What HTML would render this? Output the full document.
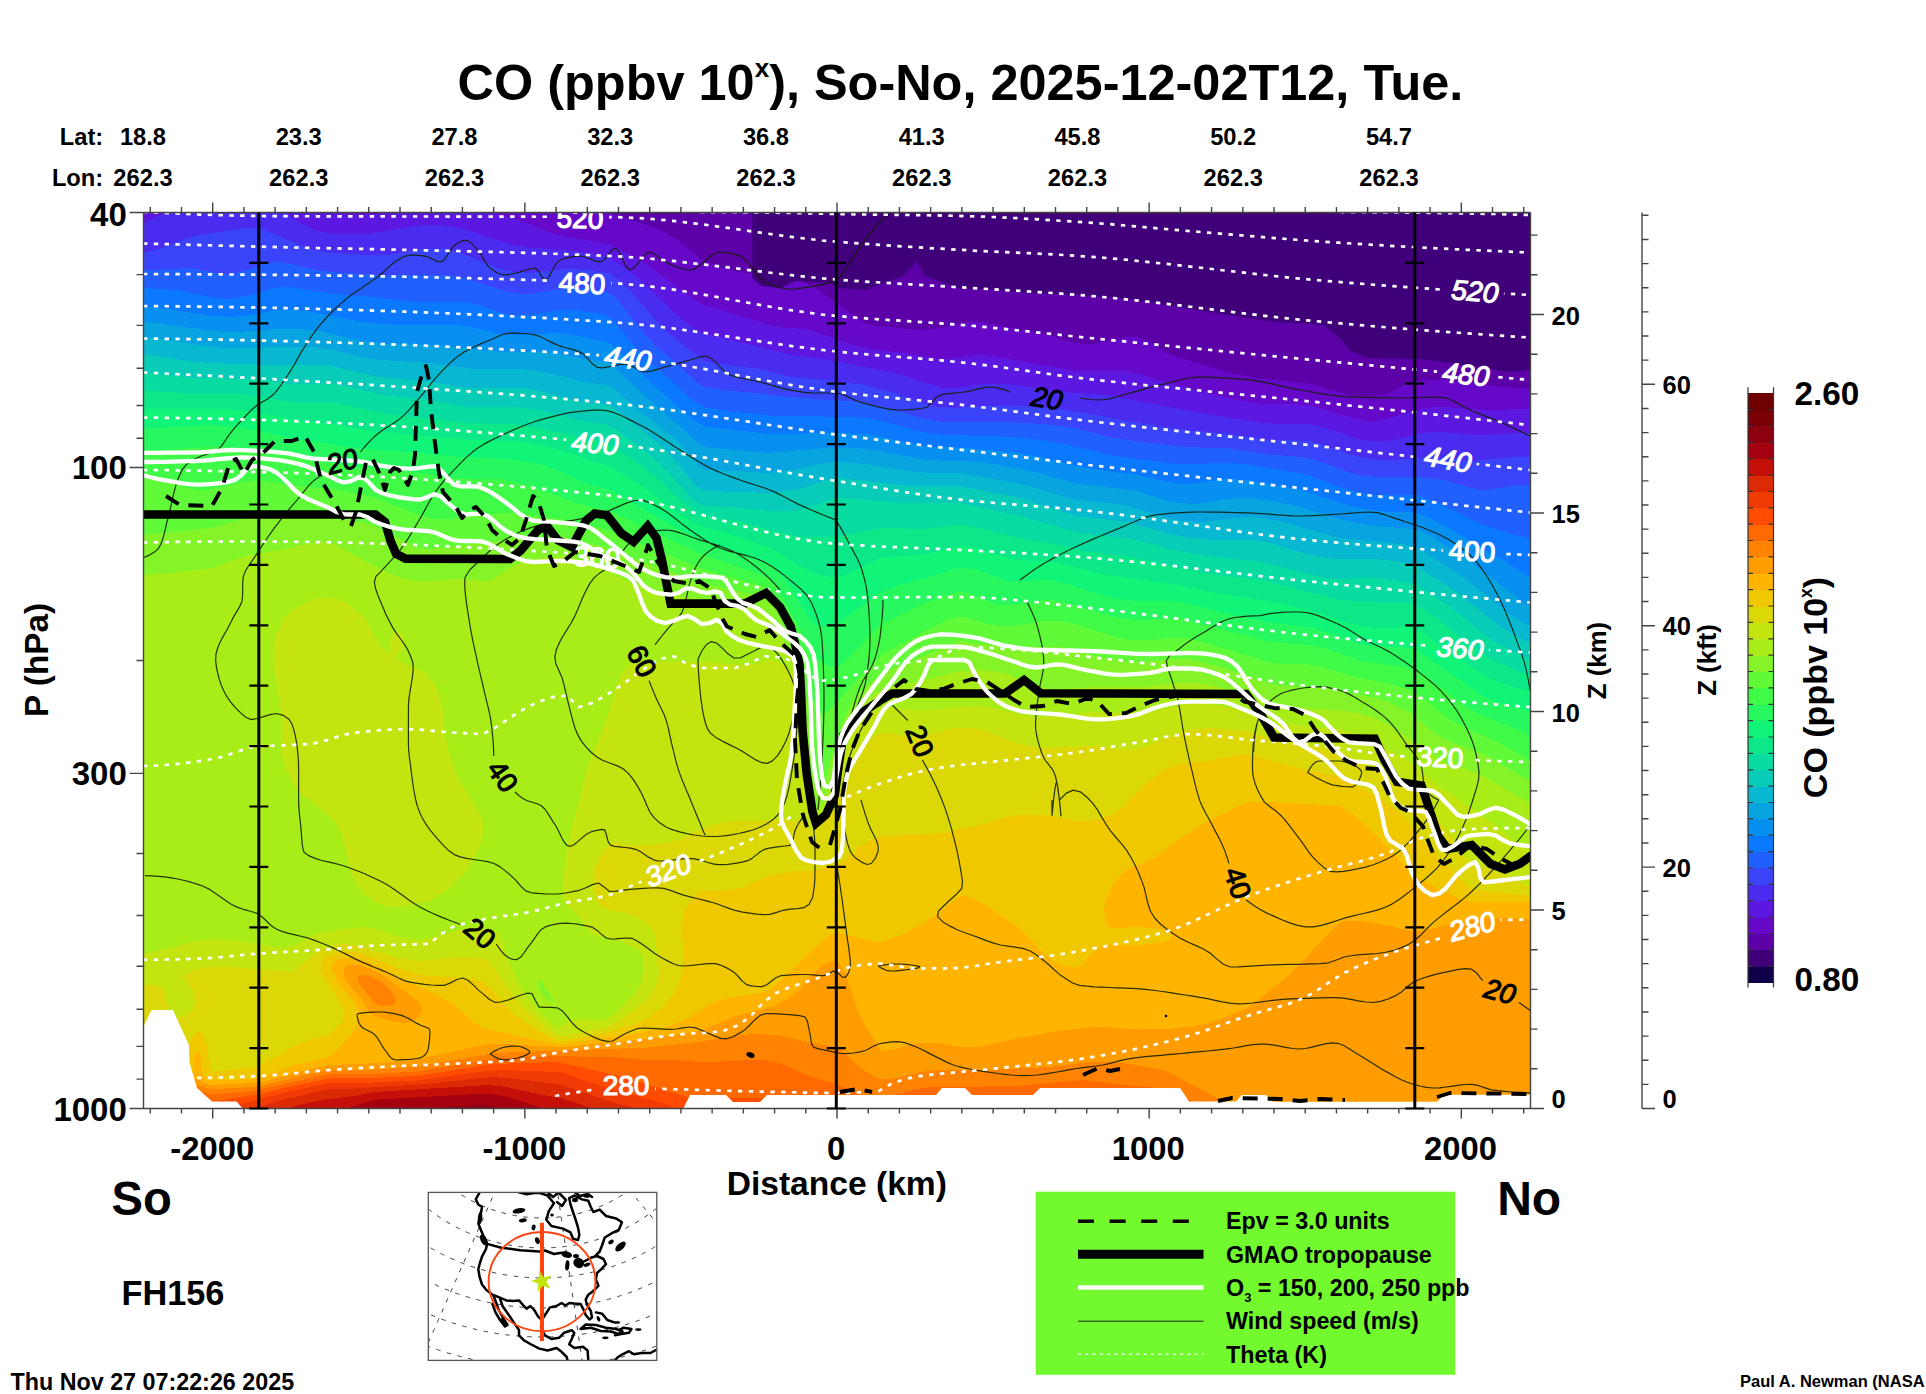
<!DOCTYPE html>
<html lang="en"><head><meta charset="utf-8"><title>CO cross-section So-No</title>
<style>html,body{margin:0;padding:0;background:#fff}svg{display:block}</style></head>
<body>
<svg width="1926" height="1394" viewBox="0 0 1926 1394" font-family='"Liberation Sans", Arial, Helvetica, sans-serif' font-weight="bold" fill="#000">
<rect width="1926" height="1394" fill="#fff"/>
<defs><clipPath id="pc"><rect x="143.5" y="212.5" width="1387.0" height="896.0"/></clipPath></defs>
<g clip-path="url(#pc)" shape-rendering="crispEdges">
<rect x="143.5" y="212.5" width="1387.0" height="896.0" fill="#40007a"/>
<path fill="#5c00a8" d="M140.5 209.5l737 0 31 30 35 36 9.5 9 6.5 4 6 0.5 69 0 51 3 12 1.5 21 1 21 4 24 6 15 1 9 -1.5 15 -6 15 -3 21 -8.5 12 -1.5 6 1.5 12 5 49.5 26 26.5 9 80 15.5 15 1 30 0.5 15 1.5 15 4.5 24 12 9 2 0 746 -1392 0z"/>
<path fill="#6608c8" d="M140.5 209.5l451.5 0 19.5 4 48 16 17.5 10 24.5 20 18 8 12 3.5 12 1.5 33 1 12 2.5 12 4.5 18 9.5 42 30.5 7 3 8 2 39 4 12 0 15 -1.5 24 -5.5 15 -0.5 63 12 30 8.5 12 2 12 -1 30 -6.5 9 0 9 3 18 11.5 9 4 57 17.5 30 5.5 45 4.5 12 2.5 30 9 12 2.5 9 0.5 12 -2 9 -3 18 -9 9 -2 12 -1.5 24 0.5 51 6.5 30 2 0 720.5 -1392 0z"/>
<path fill="#5c18e0" d="M140.5 209.5l180.5 0 7.5 3 4 0.5 27 1.5 18 -1 5.5 -1 8.5 -3 88.5 0 38.5 10.5 36 14 9 2.5 42 7 6 1.5 36 20 37.5 28.5 16.5 10.5 62.5 19.5 18.5 4 21 1.5 12 2.5 36 13 18 4.5 30 3.5 39 6.5 9 0 27 -4 15 0.5 84 15 54 1 12 2.5 36 11 57 14 30 5 36 0.5 12 1.5 15 3.5 27 8.5 15 3 9 0 8 -1.5 28 -8.5 18 -3.5 15 -0.5 36 3 51 -1 0 700.5 -1392 0z"/>
<path fill="#4a2cf0" d="M140.5 223.5l6 -1 19.5 -10 4 -3 111 0 7 6 17.5 10.5 12 5 15 3 21 0.5 18 -1 36 -6.5 18 -2 12 0 12 1 18 4 33 11.5 12 3.5 18 2.5 47 4 31 6 10 6 20 15 39 37 18 14 6 3.5 90 22 36 4.5 69 14 45 14.5 12 0.5 33 -5 15 0 69 9 39 3 90 17.5 60 9.5 15 1 27 0 12 1.5 14.5 3.5 30.5 10.5 15 2.5 17.5 -1 30.5 -7 12 -1.5 12 0.5 33 2.5 54 -2.5 0 677 -1392 0z"/>
<path fill="#3a44fa" d="M140.5 252l9 -0.5 9 -2 27 -10.5 12 -3.5 51 -8 9 0.5 6 1.5 29.5 13 15.5 6 12 3 12 1.5 48 2.5 15 -1.5 30 -5.5 18 0 15 4 39 15.5 15 3.5 18 1.5 30 -3.5 12 -0.5 18 1.5 18 3 9 6 12.5 11 26.5 31 9 9 30 24.5 9 5.5 18 4 33 4 36 8.5 39 3.5 30 4 27 6.5 36 12.5 12 3 18 1.5 42 -2.5 18 0 48 4 30 4.5 36 7.5 63 9 39 3.5 39 6 30 0.5 12 1 15 4 33 11.5 18 3 15 0 42 -3 42 4 39 -4 18 -0.5 0 653 -1392 0z"/>
<path fill="#2060ff" d="M140.5 270.5l48 -2.5 9 1 21 4.5 12 0.5 12 -2.5 24 -8.5 12 -1 12 2 27 6 18 2.5 57 3 42 -1 15 0.5 18 4 39 12.5 12 2 15 0 33 -5.5 12 -0.5 15 1.5 12 2.5 6 3 8 8 24 30 11 12 24.5 21 19.5 18.5 6 3 21 3.5 30 2.5 33 4 72 5 24 5 39 11.5 15 3 69 0.5 36 2 27 3.5 42 10 15 2.5 57 7 45 1.5 39 6 33 2.5 15 3 30 11.5 15 4 21 2 33 -0.5 15 1 15 2.5 33 9.5 12 -0.5 27 -4.5 15 0 0 624.5 -1392 0z"/>
<path fill="#0a78ff" d="M140.5 288l36 2 36 7.5 15 1.5 18 -2.5 30 -9 15 -0.5 42 7 42 3 39 5 12 0.5 27 -1 12 0.5 15 3.5 24 8 12 2 15 -0.5 27 -4.5 9 -0.5 12 0.5 27 4.5 6 3.5 19 23 14 15 51 46.5 9 4.5 27 4 39 4 78 1.5 18 1 18 3.5 33 9.5 15 3 12 1 51 1 39 3 27 4.5 51 12 60 8 18 1 33 -2 23 2 58 9.5 39 14 18 4.5 18 2.5 30 -0.5 9 1 18 6.5 33 17 12 5.5 18 6 33 9 0 570 -1392 0z"/>
<path fill="#0890f0" d="M140.5 306.5l18 1.5 51 7.5 18 1.5 18 -1 33 -6 15 0 18 2 43 8.5 23 3.5 33 1.5 45 -0.5 12 1.5 30 7 12 1.5 15 0 30 -2 12 1 39 8 6 3 24 24 33 29.5 27 23.5 9 4.5 63 7.5 72 -1 30 1.5 60 12.5 39 1 51 5 21 4 42 10.5 54 7.5 30 6.5 12 2 15 0 33 -4.5 21 1 51 9.5 42 14 21 5 21 3 33 1 15 6 18 9.5 50 29.5 28 18 6 2.5 0 531.5 -1392 0z"/>
<path fill="#08a4e0" d="M140.5 322l15 1 54 7.5 18 1.5 18 -0.5 36 -3 18 0.5 24 3 36 8.5 18 3 63 2 45 5.5 21 1 36 0 15 1.5 27 5.5 21 3 6 2.5 39.5 37 31.5 27 16 15.5 6 3 63 6 66 -5.5 18 0 21 2.5 51 9.5 15 1 24 0 24 2.5 36 6 54 14.5 54 6.5 12 3 24 8 12 2 18 1 30 -5 15 -1.5 12 1 21 3 24 5 39 12 18 4.5 24 3.5 36 2.5 15 7 42 27.5 48 37 6 4 6 2 0 503 -1392 0z"/>
<path fill="#08b8d0" d="M140.5 337.5l15 1 45 7 21 2 27 0.5 51 -1.5 18 1 15 2 33 8.5 15 2 51 3 42 6 42 0 18 1 18 3.5 30 8 27 4 6 3.5 27 23.5 28 22 12.5 12 16.5 19.5 6 3.5 66 3.5 24 -3.5 23 -5 22 -3 21 2 51 8 18 1.5 33 0.5 57 10 57 16.5 36 3.5 15 2.5 39 11.5 15 3.5 21 1 42 -5 15 0.5 24 4.5 54 15.5 72 7.5 9 3 45 29.5 45 35.5 18 11.5 6 2 0 483 -1392 0z"/>
<path fill="#08ccb8" d="M140.5 354.5l15 1.5 36 5.5 18 1.5 75 2.5 33 -0.5 12 0.5 48 11.5 51 4.5 36 6.5 12 0.5 33 -1 18 1 12 2.5 36 10 33 4 6 3.5 48 38.5 11 11.5 22 27 3 3 6 2.5 69 2 24 -3.5 30 -10 12 -1.5 66 7.5 54 0.5 60 12 57 18 51 6 45 12.5 15 3 21 2 36 0.5 12 0.5 15 3 36 11 15 3 15 1.5 39 0 24 3 15 3.5 42 27.5 43 33.5 23 14 9 3 0 466 -1392 0z"/>
<path fill="#08dca0" d="M140.5 372.5l54 5.5 57 1 42 5.5 39 -1 12 2.5 36 9 45 4.5 39 7 15 1 33 -0.5 15 1.5 15 2.5 33 8.5 30 5 9 4 36 27 12 11 28.5 31 7.5 6.5 6 2 30 1.5 36 3.5 24 0 9 -1.5 24 -9 12 -3 63 5.5 60 0.5 57 12.5 60 17 51 5.5 45 12 24 4.5 60 6.5 63 16 15 1.5 27 -1 15 0.5 24 3 12 3 33 21 30 24.5 15 11 27 14.5 12 4.5 0 449.5 -1392 0z"/>
<path fill="#0ce888" d="M140.5 390l48 3.5 57 1 51 8.5 39 0 39 8.5 18 3 75 8.5 48 1.5 24 3.5 66 15.5 6 2 36 24.5 33.5 30.5 17.5 13.5 6 1.5 34.5 6 58.5 15 39 0.5 42 -8.5 12 -0.5 33 1 33 -4 6 0 18 3.5 36 9.5 36 5.5 33 8 48 6 75 16.5 42 4.5 15 2.5 75 18.5 21 2.5 45 1.5 6 0.5 6 2.5 18 11 30 25 18 12.5 21 11 21 8 6 1.5 0 434 -1392 0z"/>
<path fill="#10f478" d="M140.5 408.5l39 1 42 -0.5 18 1 18 2.5 36 8 39 3.5 42 7.5 93 8 51 2 27 4.5 21 6 45 15.5 27 16.5 38.5 28.5 21.5 13.5 30 7.5 42 14.5 33 20 12 5.5 12 3 9 0.5 9 -2 30 -15 7.5 -2.5 40.5 -3 33 -7.5 9 -0.5 15 3 33 10 42 2.5 48 12.5 72 10 45 9.5 36 5 27 5 27 6.5 40 13 14 3.5 15 1 30 -1 9 2.5 37 27 32 21 15 6 30 9 0 417 -1392 0z"/>
<path fill="#28f860" d="M140.5 427.5l27 0 39 -2.5 21 1 27 4 39 8.5 66 10 53.5 4 48.5 4.5 48 2 18 2.5 15 3.5 16 5.5 26 12 24 7 6 2.5 55.5 32.5 28.5 15 72 25 8.5 8 7.5 9 23 37.5 6 5.5 9 2.5 9 -2 6 -2.5 36 -26.5 12 -6.5 12 -4.5 30 -8 24 -8 9 -1.5 15 2.5 30 10.5 12 1 24 -1.5 9 0.5 15 3.5 33 11 18 4 18 2 33 0 15 1.5 48 12.5 36 7 45 6 51 17 12 1.5 27 1 12 2 69 47.5 12 5 36 10.5 0 397 -1392 0z"/>
<path fill="#40fa48" d="M140.5 449.5l30 0 36 -3 15 0 39 5 90 14.5 54 5 45 7 51 1.5 16 3 17 4.5 45 17 30 6.5 90 42.5 69 24.5 6 5 5 8 22 39 12 25.5 3 3.5 6 4.5 9 3.5 9 -1 6 -4 30 -31.5 9 -7 36 -18 27 -10 12 -3.5 9 2 23.5 9 9.5 2.5 12 0.5 27 -5 12 -0.5 15 3 36 11 21 5 15 1 30 -1.5 15 1 81 21.5 12 2 27 1.5 12 1.5 12 3.5 33 11.5 39 5.5 15 3.5 15.5 10.5 32.5 24.5 12 7.5 12 5.5 27 10 12 6 6 2 0 373.5 -1392 0z"/>
<path fill="#60fa38" d="M140.5 475l18 2.5 27 10 12 2.5 12 -0.5 30 -7 15 -1.5 12 0.5 27 4.5 42 3.5 39 8 45 18 15 3.5 18 0 27 -4 27 -2.5 54 6.5 48 11 27 12 33 12.5 30 13 63 18.5 6 2.5 3 2.5 4 5.5 24.5 45 6 18 7.5 37 3 9 3 5 3 3 3 0 6 -4.5 12 -12.5 13 -16 26 -26 51 -27.5 18 -8 9 -2.5 6 0.5 24 7.5 15 2 12 -1 30 -5 15 0.5 15 3.5 39 12.5 15 3 15 0.5 27 -3 15 1 15 3.5 66 20 12 2 27 0.5 12 2 36 10.5 39 8 18 6 6 3.5 24 19.5 13 8.5 14 7 31.5 14 25.5 15 6 2 0 349 -1392 0z"/>
<path fill="#84f428" d="M140.5 535l63 -6 15 -3 24 -7 12 -2.5 33 1.5 39 -3 18 2 27 8 12.5 5.5 29.5 15.5 6 2 6 1 18 -1 27 -4 18 -1.5 30 -5 42 -1 48 11.5 21 9 33 11.5 36 14 66 14.5 6 4 3 4.5 10.5 21 12 21 4.5 12 4 21 3 27 5 65.5 3 13.5 3 3 3 -2 3 -5.5 13 -44.5 6.5 -18 7 -15 6.5 -9.5 24 -21.5 78 -32.5 48 6 39 -0.5 12 0.5 48 11.5 21 3 15 0.5 33 -3.5 15 0.5 33 8.5 48 16.5 12 2 27 1 15 1.5 48 9 18 5.5 21 11 18 16 11.5 7.5 9.5 4.5 35 13.5 37 22 9 3.5 0 328.5 -1392 0z"/>
<path fill="#a8ec18" d="M140.5 575l21 -1 45 -5 12 -3 22.5 -8.5 10.5 -2.5 27 -4.5 30 -7 15 -1.5 6 1 8 2.5 40 22.5 21 9 15 4 9 0.5 33 -2.5 33 2 6 -2.5 17.5 -12 8 -3 19.5 -5 21 -2.5 15 3 16 4.5 16 6 13 8 12 5.5 39 12 27 5.5 30.5 2 28 6 7 3 3.5 3.5 10.5 17.5 13.5 19.5 6 12.5 3 12.5 2.5 18.5 6 87 3.5 19 3 7.5 3 -0.5 3 -3 3 -5.5 24.5 -74.5 5.5 -12 6 -7.5 15 -13 9 -4.5 54 -11.5 21 -6 18 -1 18.5 1.5 14.5 4 26 11 16 3 15 -0.5 33 -2.5 39 1 39 -5 18 0.5 15 2.5 36 9.5 18 7 12 3.5 12 1.5 51 3.5 18.5 3 14.5 4 15 7.5 21 13.5 21 16.5 9 5.5 9 4 21 6 15 6 39 23.5 9 3.5 0 306 -1392 0zM537.5 980.5l0.5 6 4.5 8.5 6 5.5 6 1.5 -12 -19.5 -3 -3z"/>
<path fill="#c4e410" d="M311.5 600l9 -2.5 9 0 9 2 12 6 9 7.5 6 6.5 12 23 3 4 6 5.5 3 1 1 -2.5 -0.5 -9 2.5 -6.5 3 -2.5 3 -0.5 3 2 2 4.5 0 6 -2 6 -5.5 6 1.5 3 4 3.5 15 5.5 9 5.5 8 9.5 5 9 4 15 3 30 4 18 5.5 15 6.5 14 19 31 2 6 1 9 -1.5 9 -3 9 -6.5 12 -8 12 -9 10 -9 8 -9 5.5 -9 4.5 -18 5 -18 1.5 -9 -1.5 -6 -2.5 -12 -8 -6.5 -7.5 -6.5 -12 -4 -12 -6 -27 -5.5 -12 -7.5 -9 -21 -16 -9 -8 -7 -9 -6 -12 -3 -9 -2 -12 -0.5 -39 -7.5 -42 -1 -12 0.5 -9 3.5 -15 6 -12 5.5 -6 8 -6zM140.5 954l18 -3 33 -9 18 -2.5 24 1 21 2.5 22 4.5 11 0 9 -2.5 12 -7.5 9 -3.5 21 -4 24 -3 15 2.5 24 8.5 15 2.5 6 -0.5 36 -9.5 15 -1.5 15 -0.5 6 2 5 5 13.5 36 5.5 12 7 12 12.5 15 16.5 15.5 3 2 3 -0.5 6 -5.5 6 -2.5 27 0.5 6 -1 6 -2.5 19 -18 8.5 -12 2.5 -6 1.5 -9 0.5 -9 -1 -6 -1.5 -3 -2.5 -3 -12 -7 -12 -4.5 -18 -3 -6.5 -3.5 -11.5 -15.5 -9 -8.5 -4 -6 -2.5 -9 0 -12 2.5 -24 3.5 -18 18.5 -72.5 16.5 -41.5 10.5 -32.5 6 -15.5 6 -9 3.5 -3 5.5 -2.5 12 -1.5 27 0 27 0.5 42 3 12 -1 15 -4.5 9 2.5 9 6.5 6 7.5 3 8.5 3 27.5 1 37.5 3 33 5.5 30 2.5 5.5 3 0.5 6 -4 5.5 -8 15.5 -46.5 12 -31.5 6 -8 18 -11.5 9 -1 24 2 15 0.5 36 -4 15 -0.5 15 2 33 8 18 1.5 15 -1 39 -5 42 2.5 12 -2 33 -7.5 12 -0.5 15 0.5 15 2.5 18 4.5 21 8 12 3.5 15 2 45 4 15 4 15 5.5 45 25 27 23.5 42 28 35 27.5 10 6.5 6 2 0 258.5 -1392 0z"/>
<path fill="#dcd808" d="M1532.5 886.5l0 223 -1392 0 0 -124.5 15 0.5 6 1.5 2.5 2.5 1 3 1.5 12 1.5 6 5.5 5.5 3 1 6 0 6 -3.5 3.5 -3 1.5 -3 1.5 -6 -1.5 -9 -2 -4.5 -6.5 -7.5 -0.5 -3 2.5 -3 4.5 -3 12 -4 9 -1 12 0 66 5.5 3 -0.5 17.5 -15 9.5 -6.5 9 -4 12 -2 18 2 39 12 15 2.5 12 0 36 -3.5 18 1 6 1.5 6 4 17.5 26 12 15 19 18 17.5 13.5 6 0.5 39 -8 8.5 -3 27 -18 10 -9 8 -12 2 -6 1 -9 -4 -36 -1.5 -5.5 -2.5 -3.5 -9.5 -7 -9 -4 -9 -3 -18 -3.5 -6 -4 -3.5 -5.5 -3 -12 0.5 -15 3 -9 3 -6 9 -12.5 3 -2 3 0 18 2.5 18 -0.5 15 -2 15 -4 18 -9 9 -3.5 15 -4 12 -2 30 0 15 -1 12 1.5 6 -1.5 3 0 9 9 3 1 3 -0.5 6 -4.5 7.5 -9 13.5 -32.5 15 -31 6 -6.5 9 -8 6 -4 3 -1 6 0 18 4 12 0.5 6 -0.5 27.5 -8 14.5 -1 9.5 1 12 3 26.5 11 18 4.5 15 1 45 -2 27 4 9 0.5 9 -1 9 -2.5 27 -12 12 -4 15 -2.5 15 -0.5 33 3.5 21 7 15 3.5 51 7.5 9 3 21 12 33 15.5 15 8.5 6 6 48 63.5 6 5 21 7.5 31.5 14z"/>
<path fill="#f0c800" d="M1532.5 896l0 213.5 -1392 0 0 -17.5 17 -3.5 20 -6 5 -2.5 3 -3.5 1.5 -6 3 -27 4 -9 3.5 -2.5 3 0.5 2 2 3 6 2 9 2 18.5 3 3.5 3 0 36 -4 6 -1 36 -20.5 15 -6 18 -4.5 6 -3 9.5 -10 2 -6 0 -6 -4 -9 -16 -24 -2.5 -6 -1 -6 1 -3 2 -3 4 -3 7 -3 10 -2 12 1 15 4.5 27 11.5 15 5 15 2.5 36 2 9 1.5 9 2.5 6.5 4.5 14.5 18 13 12 22.5 15 18.5 9 9 0 42 -8 27 -8.5 12 -5.5 15 -11 10.5 -12 6 -12 4 -15 1 -12 -2.5 -30 2 -11 3 -7.5 6 -9.5 6 -6.5 3 -1.5 15 1 15 -1.5 12 -3 19.5 -8.5 10.5 -3.5 24 -4.5 15 1 12 -4 12 -2 6 -4 18 -15.5 12 -7 9 -3 39 -1 21 -2 36 -7.5 30 -8.5 15 -2.5 24 0.5 33 6.5 9 -0.5 12 -2 12 -5 9 -5.5 22.5 -23 19 -15 6.5 -3.5 15 -3.5 27 -3 27 -5.5 12 -0.5 42 12.5 48 10 15 9 24 12 15 10.5 9 8.5 19 22.5 31 33 16 15.5 6 2z"/>
<path fill="#ffb400" d="M1532.5 902l0 207.5 -1392 0 0 -7 6 -1 33 -12 6.5 -4 4.5 -6 1.5 -6 2.5 -20 3 -3 3 5 2 15 2 6 3 3 5 1 36 -1.5 12 -1.5 33 -12 33 -7.5 6 -3.5 18.5 -20 5 -9 2.5 -9 -0.5 -6 -2 -6 -17.5 -21 -6 -12 -0.5 -6 2 -3 4.5 -3 6 -1.5 12 0.5 12 3.5 39 19.5 31 14 15.5 9 20 18 10 6 54 12 22.5 4 81 -12 19.5 -4 25.5 -9 22 -15 8 -3 15 -4.5 21 -2.5 12 -2.5 9.5 -5.5 47.5 -45 9 -6 9 -2.5 39 9 6 -1 18 -6.5 15 -8 18 -11.5 21 -17 6 -2.5 9 2.5 10 4.5 32 21 12 10 18.5 20 8.5 7 12 5.5 12 1.5 3 -1 3 -2.5 12 -13.5 9 -6 24 0.5 18 -0.5 18 -3 6 -3 1.5 -3 -1.5 -3 -9 -3.5 -21 -2 -27 1 -3 -1 -3 -3.5 -1 -3 -1.5 -12 2 -9 5.5 -12 10 -13.5 6 -5 15 -5.5 11.5 -6 9.5 -6.5 21 -16 21 -12.5 27 -14 18 -7 9 0 75 4 6 1 14 9 13 11 45 46.5 7 5.5 14 8 22 10 14 5z"/>
<path fill="#ff9c00" d="M1532.5 919l0 190.5 -1377 0 3.5 -3 26.5 -14.5 12 -14 6 4.5 6 2.5 45 -2 6 -0.5 39 -11 30 -6.5 48 -2 39 -3.5 72 -15.5 15 0 60 3.5 42 -5 42 -3.5 51 -8 36 -14.5 36 -9.5 9 -4 18 -11.5 15 -17 9 -8.5 6 -4 6 -1.5 3 0.5 3 2.5 6 10.5 12 36.5 6 12 15 24.5 3 3 3 1 9.5 -1.5 17.5 -5.5 12 -1.5 12 0.5 27 4 18 -0.5 33 -7.5 48 -8.5 27 -3 15 -0.5 36 2.5 33 -1 18 -2 15 -2.5 12 -4 27 -11 6 -3 39 -31.5 45 -47 6 -5 3 -1 15 -0.5 15 1.5 42 9.5 18 -3.5 39 -10 21 -1zM343.5 968.5l3.5 -3 3.5 -1 9 0.5 15 5.5 12 7 31.5 24 3.5 6 0 3 -2 5.5 -6 5 -6 1.5 -6 0.5 -12 -2 -15 -5.5 -6 -4.5 -7 -12.5 -11 -12 -4.5 -6 -2.5 -6z"/>
<path fill="#ff8200" d="M357.5 977.5l2 -2.5 3 -0.5 9 2.5 8 3.5 7.5 6 5.5 6 3 6 0 3 -3 3 -6 1 -6 0 -6 -2.5 -15.5 -19.5zM1236 1109.5l-1065 0 2.5 -3 12 -8.5 9 -10 3 -2.5 15 3.5 42 -2 9 -1.5 39 -10 27 -5.5 45 -0.5 42 -3 78 -13.5 153 -5.5 54 -6 39 -6.5 15 -1 21 1 38.5 8.5 21.5 3.5 6 4 12 12 10 7.5 11 7 6 2 12 -1 30 -7 12 -1.5 39 0.5 75 -3.5 45 -5.5 30 1.5 36 6.5 6 1.5 66.5 35.5z"/>
<path fill="#ff6a00" d="M183 1109.5l11.5 -15 3 -2.5 2 -0.5 7 2 6 1 42 -4 75 -16.5 45 0 42 -2.5 75 -12.5 66 -3.5 21 1 30 0 36 3.5 36 0.5 24 2 45 -2.5 18 0.5 15 4 27 12 27 7.5 24.5 10.5 11.5 3 6 0.5 9 -1 30 -8 18 -2.5 30 0.5 57 -1.5 60 -5.5 36 4.5 45 4 9 3 25 12 9.5 6z"/>
<path fill="#ff4c00" d="M192.5 1109.5l5 -7.5 3 -1.5 6 1 6 0 45 -7 36.5 -9 35.5 -7 42 -0.5 45 -2 75 -12 66 -2 66 15 75 23.5 9 0 33 -3 15 0 39 4.5 39 2.5 15 2 9.5 3zM1174 1109.5l-275 0 7 -3 11.5 -3 21 -4 90 -1.5 15 -1 36 -5.5 45 14 36 -1 9 2z"/>
<path fill="#f03c04" d="M678.5 1109.5l-455 0 6.5 -3 58.5 -15 41 -8.5 33 0 54 -2.5 69 -9.5 18 -1 57 2 48 16.5 56 15zM1066.5 1109.5l13 -2.5 7.5 2.5z"/>
<path fill="#dc2a04" d="M637 1109.5l-380.5 0 5 -3 18 -6 50 -11.5 24 -0.5 66 -4 72 -7.5 21 1.5 48 6 48 16.5 21.5 5.5z"/>
<path fill="#c41008" d="M593 1109.5l-306.5 0 10 -4 27 -6 27 -3 24 -4.5 114 -7 18 2 36 8 18 3 27 8.5z"/>
<path fill="#a50010" d="M546.5 1109.5l-202.5 0 27.5 -9 6 -1 108 -6 9 1 15 3z"/>
<path fill="#8c0010" d="M431 1109.5l24.5 -3.5 27 -1 12 1 9 3.5z"/>
</g>
<g clip-path="url(#pc)">
<path d="M752.3 212L1531 212L1531 370L1507 372L1470 366L1422 359L1368 358L1351 351L1339 337L1324 325L1275 322L1202 311L1129 299L1080 295L1025 293L952 286L925 276L917 261L903 276L866 290L837 288L830 283L795 281L781 288L761 286L752.3 278Z" fill="#40007a"/>
<path d="M143 1027.4L151.5 1010L173 1010L189 1045.3L189.5 1062.6L197 1088L212 1101.4L236.5 1101.4L243 1109L143 1109ZM683 1109L690 1095L726 1095L733 1102L760 1102L767 1095L936 1095L942 1088L965 1088L972 1095L1033 1095L1040 1088L1080 1088L1180 1088L1189 1101.5L1236 1101.5L1242 1095L1266 1095L1273 1101.8L1437 1101.8L1444 1094.7L1531 1094.7L1531 1109Z" fill="#fff"/>
<path d="M143.7 557.5L149.4 555.1L154.4 552.1L158.2 548.7L160.6 544.6L162.5 539.7L164.1 534.2L165.5 528.3L166.8 522.5L168.3 517L169.6 511.6L170.9 506.1L172.1 500.6L173.3 495.1L174.7 489.7L176.2 484.4L178 479.2L180.2 473.9L182.9 468.9L186.2 464.8L190.6 461.5L195.6 458.6L200.7 456.3L206.2 454.4L211.7 452.5L216.6 450.2L220.6 447.1L223.9 442.7L227 437.8L230.4 433.2L233.9 428.9L237.6 424.7L241.4 420.5L245.2 416.5L249 412.4L253 408.5L257.3 405L262.2 402.1L267.1 399.3L271.5 396.1L275.3 392.3L278.8 388L282.2 383.4L285.4 378.7L288.5 373.9L291.5 369.3L294.3 364.5L297 359.6L299.8 354.7L302.6 349.9L305.6 345.2L308.7 340.5L311.8 335.9L315.1 331.3L318.4 326.9L322 322.7L325.7 318.5L329.5 314.4L333.5 310.5L337.5 306.6L341.7 302.9L345.9 299.2L350.2 295.8L354.8 292.6L359.4 289.4L364 286.3L368.7 283.2L373.3 280L377.8 276.7L382.1 273.2L386.2 269.3L390.4 265.5L394.7 262.2L399.5 259.1L404.6 256.3L409.9 255L415.3 255.2L421 255.6L426.5 256.3L431.9 258.7L437.1 261.4L441.6 261.7L445.3 258.4L448.7 253.1L452.2 247.7L456.4 244L461.5 240.9L466.5 240.2L471.1 242.9L475.5 247.3L479.3 251.5L482.3 256.4L485.1 261.6L488.1 266.2L492.1 269.6L497 272.7L502.4 274.7L507.8 274.8L513.3 273.7L518.8 272.3L524.4 270.7L530 268.9L535 268L538.9 271.5L542.3 277.6L545.7 279.9L548.9 276.9L551.9 271.3L555.2 265.1L558.8 260.7L563.3 258.8L568.8 257.4L574.6 256.4L580.3 256L585.8 257.2L591.4 259.4L596.6 261.5L601.4 261.7L605.8 258L609.9 252.4L613.7 248.4L617.1 249L620.3 253.9L623.2 260.7L626.2 266.8L629.5 269.9L633.2 268.5L637.2 264.1L641.4 258.6L645.7 253.9L650.1 252L654.6 253.9L659.2 257.8L664 261.5L669 263.8L674.4 266.1L679.9 268.1L685.3 269.5L690.4 270L695.3 268.6L700.1 265.3L704.7 261.2L709.4 257L714.1 253.7L719.1 252L724.4 252.3L730.2 253.2L735.8 254.6L740.7 256.3L744.9 259.1L748.7 263.3L752.3 268.2L755.8 273.2L759.5 277.8L763.6 281.2L768.3 283.5L773.5 285.6L779 287.3L784.6 288.6L790.2 289L795.7 288.8L801.2 288.2L806.8 287.4L812.4 286.5L817.9 285.4L823.4 284.3L829 282.8L834.2 280.9L838.4 278.3L842 274.2L845.3 269.3L848.4 264.3L851.7 259.7L854.8 255.1L857.8 250.4L860.9 245.7L864.1 241.2L867.5 236.7L871 232.4L874.6 228.1L878.3 223.9L882 219.8L886 215.9L890 212M360.5 452L364.5 447L368.7 442.3L373.2 437.8L377.8 433.7L382.8 429.9L388.2 426.5L393.6 423.2L398.8 419.6L403.5 415.6L407.9 411.2L412.1 406.5L416.2 401.6L420.3 396.8L424.4 392L428.3 387L432.2 382.1L436.3 377.3L440.5 372.7L444.9 368.1L449.5 363.6L454.2 359.3L459 355.4L464.2 352L469.6 349L475.3 346.2L481.2 343.6L487 341.2L492.9 338.8L498.8 336L504.7 333.8L510.8 333L517.1 333.2L523.5 333.5L529.7 334L535.7 335.1L541.5 337.3L547.3 340.2L553.1 343.1L558.9 345.6L565 347.5L571.2 349.1L577.2 350.9L582.7 353.6L587.5 358.4L592.2 363.6L597 367.3L602.5 367.9L608.6 366.8L615 365.4L621.4 364.2L627.5 364.3L633.3 367L639.1 370.3L645 372L651 371.2L657.2 369.4L663.3 367.5L669.4 365.8L675.5 364.1L681.5 362.4L687.6 360.7L693.7 358.8L699.9 356.8L705.8 356L711 358.1L715.8 362.4L720.6 367.6L725.5 372.3L730.8 375.3L736.7 377.1L742.8 378.5L749.1 379.7L755.4 381L761.6 382.4L767.7 384.1L773.7 385.9L779.8 387.7L785.9 389.2L792 390.3L798.3 391.4L804.5 392.3L810.8 392.9L817.1 393L823.5 393L829.8 393L836 393L842 394.1L847.8 396.6L853.7 399.5L859.6 401.9L865.6 403.6L871.7 405.2L877.9 406.9L884.1 408.2L890.4 409.3L896.6 409.9L902.9 410L909.4 409.7L915.9 409.2L922 408.5L927.4 407L932 402.2L936.6 397L941.8 394.6L947.7 393.7L954.2 393.1L960.7 392.5L967 391.7L973.2 390.2L979.4 388.6L985.5 387.3L991.7 387L997.8 387.8L1003.9 389.6L1010 392M1080 398L1089.1 399.5L1098.1 400L1107 399.4L1115.8 397.2L1124.6 394.5L1133.4 392.1L1142.1 389.7L1150.9 387.3L1159.7 385.1L1168.5 382.9L1177.4 380.5L1186.3 378.5L1195.2 377.2L1204.2 377L1213.2 377.3L1222.3 377.8L1231.4 378.4L1240.4 379.1L1249.5 379.9L1258.4 381.1L1267.3 382.8L1276.2 384.8L1285 386.9L1293.9 388.9L1302.8 390.5L1311.8 392L1320.7 393.6L1329.7 395L1338.7 396.2L1347.7 396.9L1356.8 397.2L1365.8 397.5L1374.9 397.7L1384 397.9L1393 398L1402.1 398L1411.3 397.8L1420.5 397.5L1429.6 397.2L1438.4 397L1447 398.2L1455.3 402L1463.5 406.7L1471.8 410.7L1480.2 414.1L1488.7 417.4L1497.1 420.8L1505.4 424.4L1513.7 428.1L1521.9 432L1530 436M323 475L317.2 478L312.3 481.9L307.9 486.6L303.8 491.7L299.7 496.9L295.5 501.8L291.3 506.7L287.1 511.6L283 516.7L279.1 521.8L275.2 526.9L271.4 532.2L267.6 537.5L264 542.8L260.4 548.2L257 553.7L253.3 559.2L249.3 564.7L245.7 570.4L243.4 576.2L242.7 582.3L242.7 588.8L242.6 595.4L241.9 601.5L239.3 607.4L235.8 613.1L232.5 618.9L229.6 624.8L226.4 630.7L223 636.6L219.9 642.5L217.5 648.5L215.9 654.5L215.7 660.6L216.4 667.1L217.8 673.5L219.5 679.9L221.5 685.8L224.2 691.8L227.5 697.6L231.4 703L235.6 707.9L240.1 712.4L245.4 717L251.2 719.6L257.3 718.5L263.6 716.6L270 714.6L276.2 713.5L282.7 715.1L288.7 719.1L291.7 723.5L293.5 728.6L295 734.5L296.3 741.1L297.3 748.1L298 755.2L298.5 762.2L298.6 768.9L298.6 775.3L298.6 781.8L298.6 788.3L298.6 794.7L298.6 801.2L298.9 807.6L299.4 814.1L300.1 820.5L300.8 827L301.4 833.6L301.9 840.7L302.6 847.2L304 852.2L309.2 855.9L315.8 858.6L321.9 860.5L328.2 861.9L334.6 863.3L340.9 865L347 867L353.1 869.2L359.2 871.5L365.2 874L371.1 876.7L377 879.5L382.7 882.3L388.3 885.4L393.7 888.9L399 892.7L404.2 896.5L409.5 900.4L414.9 904L420.4 907.3L426.1 910.2L432 913L437.9 915.6L443.9 918.1L449.9 920.5L455.9 922.8L462 925M496.3 944L500.7 950.4L504.9 955L509.1 958L513.1 959.5L517 959.6L520.7 957.1L524.3 952.5L527.8 947.3L531.4 942.9L534.7 938.2L537.9 933.4L541.4 929.4L545.3 926.9L550.1 925.4L555.5 924.1L561 923.4L566.4 923.2L571.8 923.5L577.2 924.2L582.6 925.1L587.8 926.1L592.7 927.4L597.2 930.4L601.5 934.4L605.9 937.8L610.6 939L615.9 938.8L621.3 938.3L626.8 938L631.8 938.3L636.7 940.7L641.3 943.8L645.8 946.7L650.1 950L654.4 953.2L658.8 956L663.5 958.7L668.4 961.4L673.4 963.8L678.4 965.5L683.5 966L688.8 965.7L694.1 965.2L699.5 964.5L704.9 963.9L710.2 963.5L715.4 963.7L720.6 965.2L725.7 967.4L730.5 970L734.8 972.9L738.7 977L742.5 981.4L746.6 984.6L751.3 985.9L756.7 986.5L762 986.7L766.8 984.8L771.3 981.3L775.8 977.7L780.6 975.7L785.7 975.3L791 974.9L796.4 974.7L801.9 974.5L807.2 974.5L812.7 974.9L818.1 975.4L823.3 975.7L828.3 974.3L833 971.1L837.6 972.4L842 976.9L845.5 977.4L848.7 972.6L850.4 966.6L850.3 961.5L849.8 956.3L849.1 950.9L848.4 945.5L847.5 940.1L846.8 934.7L846.1 929.4L845.4 924.1L844.7 918.8L844 913.6L843.3 908.3L842.6 903L841.8 897.7L841 892.4L840.3 887.1L839.5 881.8L838.7 876.6L837.8 871.3L837 866M836 520L829.6 517.6L823.2 515L816.9 512.4L810.6 509.7L804.3 506.9L798.1 504.1L792 501L785.9 497.8L779.8 494.6L773.7 491.6L767.4 489L760.9 486.7L754.4 484.7L747.8 482.6L741.3 480.5L734.8 478.1L728.4 475.7L722 473.2L715.7 470.6L709.5 467.7L703.5 464.6L697.6 461.1L691.7 457.4L685.9 453.7L680.1 450.1L674.3 446.4L668.6 442.6L662.9 438.7L657.1 434.9L651.3 431.2L645.4 427.8L639.4 424.7L633.2 421.6L626.9 418.4L620.5 415.3L614.1 412.7L607.5 410.8L600.9 410L594.2 410.2L587.3 410.7L580.4 411.4L573.6 412.2L566.9 413.2L560.1 414.6L553.4 416.3L546.8 418.1L540.2 419.9L533.7 422L527.3 424.2L520.9 426.7L514.5 429.4L508.2 432.2L502 435.1L495.8 438L489.6 441.1L483.6 444.4L477.8 448L472.4 452.1L467.2 456.6L462.3 461.4L457.5 466.3L452.7 471.3L448 476.3L443.4 481.5L439.1 486.8L435.1 492.3L431.5 498L428.1 504L424.8 510.1L421.5 516.1L418 522L414.6 527.9L411 533.9L407.4 539.7L403.6 545.4L399.5 550.8L395.1 556L390.4 561.1L385.8 566.2L381 571.4L375.8 576.7L374.4 582.4L375.6 588.7L377.9 595.3L380.7 602.1L383.5 608.6L386.2 614.9L389.3 621.1L392.5 627.1L396.1 632.9L400.2 638.5L404.3 644.1L407.8 649.9L410.6 656.2L412.9 662.8L413.2 669.4L412.5 676.1L411.5 682.9L410.3 689.8L409.2 696.6L408.5 703.5L408.4 710.3L408.4 717.2L408.4 724.1L408.4 730.9L408.4 737.8L408.4 744.6L408.8 751.4L409.5 758.3L410.5 765.1L411.3 771.9L412.2 778.7L413.1 785.5L414.2 792.3L415.5 799L417.2 805.6L419.5 812.1L422.4 818.2L425.9 824.1L430 829.8L434.3 835.2L438.8 840.3L443.6 845.6L448.7 850.6L454.2 854.6L460.1 856.9L466.6 858.4L473.6 859.5L480.7 860.5L487.6 861.7L494 863.5L499.8 866.6L505.3 870.9L510.7 875.4L515.9 880.4L520.8 886.2L525.8 890.9L531.5 892.8L538 893.4L545 893.8L552.1 894L559 893.8L565.8 893L572.6 891.7L579.3 890.3L585.9 887.8L592.4 884.6L598.5 883L604 886.9L609.5 891.5L615.8 891.2L622.7 890.3L629.7 889.4L636.7 888.8L643.5 888.4L650.4 888L657.2 887.8L663.9 888.4L670.4 890.4L677 892.9L683.5 895.1L690.2 896.9L696.8 898.5L703.5 900.1L710.1 901.8L716.7 903.8L723.2 906.2L729.6 908.6L736.1 910.7L742.8 912.2L749.5 913.2L756.4 914.1L763.2 914.6L770 914.3L776.6 912.4L783.2 910.3L790.1 909.2L797.4 908.6L803.9 907.7L809.1 904.2L812.5 897.7L813.6 891.3L814.5 884.4L814.9 877.3L815 870.4L815 863.5L815 856.7L815 849.8L814.9 843L814.4 836.1L813.8 829.3M836 520L839.8 526.4L843.5 532.9L847.1 539.4L850.5 546L854.1 552.6L857.6 559.3L860.7 566L862.8 573L864.7 580.2L866.3 587.6L867.5 595L868.2 602.3L868.8 609.7L869.3 617.2L869.6 624.6L869.9 632.1L870 639.5L869.8 647L869.3 654.5L868.6 661.9L867.6 669.3L866.5 676.7L865.2 683.9L863.2 691L860.6 698L857.8 705L855.3 712L852.8 719.1L850.2 726.1L847.6 733L845 740M818 810L818.9 801L819.7 791.9L820.5 782.9L821.2 773.8L821.8 764.8L822.2 755.7L822.6 746.7L823 737.6L823.4 728.5L823.7 719.5L823.9 710.4L824 701.3L824 692.2L823.8 683.1L823.6 674L823.3 664.9L822.9 655.8L822.4 646.8L821.8 637.9L820.4 628.8L818 619.7L815 610.9L811.4 602.8L807 595.5L800.7 588.9L793.4 582.8L786.4 577.1L779.1 571.4L771.5 566.2L763.7 561.7L755.5 558.3L746.9 555.7L737.9 553.4L729 551.1L720.5 548.2L712.4 544.4L704.6 539.7L697 534.7L689.4 529.6L682.1 524.1L675 518.3L667.7 512.8L660.2 508.1L651.9 503.7L643.4 500.4L634.8 500.5L626.3 503.1L617.7 506.9L609.1 510.6L600.4 513.4L591.7 516L582.9 518.3L574.1 520.2L565.1 521.4L556 522.4L547 523.6L538.2 525.4L529.5 528.1L520.9 531.5L512.6 535.5L504.8 539.7L497.3 544.7L490.1 550.5L483.4 556.7L476.7 563.2L469.5 570.2L464.9 577.7L464.7 585.8L465.4 594.6L466.6 603.8L468 613.2L469.5 622.3L471 631.3L472.7 640.2L474.6 649.1L476.6 657.9L478.5 666.8L480.6 675.6L482.7 684.5L484.7 693.3L486.9 702.1L489 711L490.8 719.9L491.9 728.8L492.8 737.8L493.5 746.9L493.8 756M515 792L518.8 795.5L522.9 798.5L527.2 800.7L532.2 802.2L537.2 803.7L541.3 805.7L544.7 809L547.7 813.1L550.5 817.6L553.3 822.2L556.2 826.5L558.9 831.8L561.5 837.3L564.2 842.2L567 845.5L570.3 846.3L574 844.7L578 841.4L582.3 837.6L586.8 834L591.4 831.7L596.7 830.4L601.9 829.4L604.9 830.2L606.6 835.5L608.2 841.9L610.5 845.2L614.3 846.3L619.4 846.9L625 847.5L630.6 848.1L635.6 849.3L640.2 851.5L644.6 854.4L649 857.4L653.5 859.8L658.1 861L662.9 860.9L667.9 860.5L672.9 860L678 859.4L683.1 858.9L688.2 858.6L693.2 858.7L698.1 859.6L703.1 861L708 862.5L712.9 863.8L717.8 864.6L722.8 864.6L727.9 864.3L733 863.7L738.1 862.8L743 861.9L747.7 860.7L752 858.4L756.1 855.1L760.2 851.8L764.5 849.3L769.2 848.1L774.2 847.3L779.3 846.6L784.7 846L789.8 845.3L792.1 843L793.4 837.9L794.6 832L796.5 827.2L798.9 822.8L801.8 818.6L805 814.6M780 590L775.1 584.4L770 579.1L764.7 574L759.1 569.3L753.4 564.7L747.4 560.3L741.2 556.1L734.9 552.4L728.4 549.3L721.6 546.7L714.6 544.4L707.5 542.2L700.4 540.1L693.4 537.7L686.3 535L679.3 532.6L672.2 530.7L665.1 530L657.7 530.6L650.1 532L643 534L636.9 536.4L631.5 540.6L626.6 546.1L621.8 552.3L617 558.6L611.9 564.3L606.1 568.9L599.7 573.1L594.2 577.6L590.1 583.1L586.6 589.4L583.4 596.1L580.4 603.1L577.5 610.1L574.4 616.9L570.8 623.5L566.7 630.1L562.6 636.8L559 643.4L556.2 650.1L554.9 656.8L555.8 663.6L558.9 670.4L562 677.4L563.9 684.4L565.6 691.6L567.2 698.8L569 705.9L570.8 713.1L572.7 720.4L574.8 727.5L577.4 734.1L580.9 740.4L585.5 746.4L590.8 752L596.4 756.7L602.5 760.3L609.6 763L616.8 765.6L623.1 768.8L628.3 773.4L633 779.2L637.2 785.6L640.9 792.1L644 798.7L646.9 805.5L650 812.3L654.3 817.9L660 823.1L666.4 827.3L672.9 829.9L679.7 831.9L686.9 833.6L694.3 835L701.8 836L709.3 836.5L716.6 836.5L724 835.9L731.4 834.8L738.6 833.5L745.7 831.9L752.8 830L760 827.2L766.9 823.7L773 819.6L777.8 815L781.9 808.8L785.1 801.8L787.2 794.9L788.9 787.8L790.3 780.5L791.5 773.2L792.7 765.9L793.8 758.6L794.8 751.3L795.7 744L796.2 736.7L796.8 729.4L797.2 722.1L797.6 714.7L797.9 707.4L798 700M145 875.6L151.6 875.8L158.2 876.3L164.8 876.9L171.3 877.8L177.9 879L184.4 880.5L190.8 882.2L197.1 884.1L203.2 886.2L209 889.1L214.5 892.7L220 896.6L225.5 900.6L231.2 904.2L237 907.1L243.2 909.3L249.7 911L255.9 913L261.4 916.3L266.4 921L271.3 925.7L276.6 929.3L282.5 931.6L288.8 933.4L295.3 934.9L301.9 936.5L308.4 938.2L314.6 940.4L320.8 942.7L326.9 945.3L333 947.9L339 950.7L344.9 953.6L350.7 956.6L356.6 959.6L362.6 962.4L368.7 964.9L374.8 967.5L380.9 969.9L387 972.5L393.1 975.2L399.1 978.3L405.1 980.9L411.4 982.3L417.9 983.4L424.5 984.3L431.2 985L437.8 985.4L444.2 985.4L450.6 982.9L456.8 979.5L462.6 978L468 980.3L473.2 984.9L478.4 990.1L483.7 994.4L489.1 999.2L494.7 1002.3L500.8 1002L507.5 1000.2L514.5 997.6L521.2 995L527.2 993.2L531.9 993.5L535.3 1000.3L538.8 1006.8L544.3 1007.4L551.4 1007.4L557.4 1007.8L562.5 1011.1L567.1 1016.4L571.7 1022.3L576.6 1027.5L582 1031L587.9 1034.3L594.2 1037.4L600.6 1039.9L606.9 1041.4L612.8 1041L618.6 1037.6L624.5 1034L630.6 1031.2L636.9 1028.7L643.3 1028L649.8 1028.3L656.4 1028.7L663.1 1029.1L669.7 1029.4L676.3 1029L682.9 1027.8L689.4 1027L695.7 1027.9L701.9 1030.5L708.1 1033.2L714.3 1035.9L720.6 1038.4L726.8 1038.8L733 1036.7L739 1033.4L744.7 1029.9L749.9 1025L754.9 1019.7L760.1 1015.4L765.6 1013.5L771.8 1013.6L778.4 1013.9L785.2 1014.3L792 1014.8L799.5 1015.6L805 1017L807.4 1021.4L809 1029L810.4 1036.1L811.5 1043.5L813.7 1047.4L819.9 1049.2L827.5 1050.6L834.1 1052.1L840.6 1053.5L847.1 1053.7L853.7 1053L860.3 1051.8L866.5 1050L872.4 1046.7L878.4 1044L884.8 1042.8L891.4 1041.9L898 1041.6L904.5 1042.6L910.8 1044.9L917 1047.3L922.9 1050L928.8 1053.1L934.7 1056.1L940.7 1059.1L946.6 1062.1L952.7 1064.7L958.9 1066.7L965.3 1068.2L971.8 1069.5L978.3 1070.6L984.8 1071.6L991.4 1072.5L998 1073.5L1004.5 1074.3L1011.1 1075L1017.7 1075.5L1024.3 1075.7L1030.8 1075.5L1037.4 1075L1043.9 1074.2L1050.4 1073.1L1057 1072L1063.5 1070.8L1070 1069.6L1076.6 1068.5L1083.1 1067.6L1089.7 1066.8L1096.2 1066L1102.8 1065L1109.2 1063.7L1115.6 1061.9L1122 1060.1L1128.4 1058.8L1134.9 1057.9L1141.5 1057.1L1148 1056.4L1154.6 1055.8L1161.2 1055.3L1167.8 1054.7L1174.4 1054.1L1181 1053.5L1187.5 1052.8L1194.1 1052.2L1200.7 1051.6L1207.3 1051L1213.8 1050.4L1220.4 1049.7L1227 1048.9L1233.5 1048L1240 1046.8L1246.6 1045.6L1253.1 1044.7L1259.7 1044.1L1266.2 1044.1L1272.7 1044.9L1279.3 1046.1L1285.8 1047.4L1292.4 1048.5L1298.9 1049L1305.5 1048.5L1312.1 1047.2L1318.6 1045.4L1325.1 1043.8L1331.5 1042.9L1337.7 1043.3L1343.7 1045.5L1349.6 1049L1355.4 1052.8L1361.2 1056.3L1366.9 1059.7L1372.5 1063.2L1378 1066.8L1383.7 1070.2L1389.5 1073.4L1395.3 1076.7L1401.2 1079.8L1407.2 1082.3L1413.5 1084.2L1419.9 1086L1426.4 1087.4L1433 1088L1439.5 1087.8L1446.1 1087L1452.7 1086.1L1459.3 1085.1L1465.9 1084.5L1472.4 1084.4L1478.8 1085.7L1485.1 1087.9L1491.5 1089.8L1498 1090.7L1504.5 1091.4L1511.1 1092L1517.7 1092.4L1524.3 1092.7L1531 1092.8M720 545L714.8 547.6L710.1 550.5L705.8 553.8L702.1 557.4L699.1 561.3L696.4 565.7L694.1 570.7L692.1 575.9L690.4 581L688.9 586.1L687.7 591.5L686.6 596.8L685.5 602.1L684.1 607.1L682.2 611.8L679.4 616.1L675.9 620.2L672.1 624.2L668.3 628.2L664.8 632.3L661.5 636.5L658.2 640.7L655 645M649 680.6L651.2 686.3L653.6 691.9L655.9 697.5L658.4 703.1L661.2 708.6L663.9 714.1L666 719.7L667.7 725.6L669 731.5L670.3 737.5L671.6 743.5L673.1 749.4L674.5 755.4L676 761.3L677.6 767.1L679.5 772.9L681.6 778.6L683.9 784.3L686.3 789.9L688.7 795.6L691 801.2L693.3 806.8L695.6 812.5L697.9 818.1L700.3 823.8L702.6 829.4L705 835M698 659L702.1 650.5L706.6 644.4L711.3 641.6L716.5 643L722.1 647.9L727.9 653.8L734 658L740.2 658L746.6 654.8L753.2 651.5L759.8 647.9L766.1 646L771.8 648.2L777.2 653.4L781.9 659.9L785.6 666.1L788.8 672.2L791.8 678.8L794.2 685.7L795.4 692.7L795.4 699.5L794.7 706.6L793.7 713.8L792.3 720.8L790.6 727.5L788.7 734.1L785.7 741.5L781.8 749.1L777.3 755.8L772.3 760.9L767.3 763.4L761.9 762.7L755.8 759.9L749.2 755.8L742.6 751.6L736.3 748L729.4 744.6L722.3 741.1L715.8 737.4L710.6 733.3L707.4 728.6L705.4 723L703.8 716.3L702.4 709.1L701.3 701.6L700.4 694.1L699.7 687.1L699.1 680.1L698.6 673.1L698.2 666L698 659M357 1014L361.1 1013.2L365.3 1012.7L369.4 1012.3L373.5 1012.1L377.7 1012L381.8 1012L386 1012.4L390.1 1012.9L394.2 1013.7L398.3 1014.6L402.2 1015.6L405.9 1017.2L409.6 1019.1L413.3 1021.2L416.9 1023.4L420.7 1025.3L425.4 1027L429.3 1028.8L430 1031.3L429.8 1035.1L429.5 1039.7L428.9 1044.4L428.3 1048.6L427 1052.3L424 1055.8L420.3 1057.9L416.7 1058.5L412.5 1059.1L408.1 1059.5L403.6 1059.7L399.3 1059.9L395.5 1060L392.2 1058.9L389.2 1055.8L386.5 1052L383.9 1048.6L381.6 1045L379.5 1041.3L377.3 1037.8L374.7 1034.7L371.3 1032.3L367.2 1030.3L363.3 1028.2L360.5 1025.7L358.8 1022.5L357.6 1018.5L357 1014M490 1054L494.4 1051.1L498.8 1049L503.1 1047.5L507.3 1046.6L511.6 1046.2L515.7 1046L520.3 1046.5L525.6 1048.6L529.4 1051L529.7 1052.8L527.2 1054.6L522.9 1056.4L517.5 1058L511.9 1059.3L506.7 1059.9L502.4 1059.8L498.3 1058.6L494.1 1056.6L490 1054M883 600L882.8 607.7L882.3 615.4L881.6 623L880.8 630.6L879.8 638.3L878.3 645.9L876.4 653.4L874.3 660.6L871.2 667.5L867.1 674.1L863 680.8L859.7 687.7L857.2 694.9L854.9 702.2L852.8 709.6L850.8 717.1L848.7 724.5L846.6 731.9L844.5 739.3L842.6 746.8L841 754.2L839.7 761.8L838.7 769.3L837.8 777L837 784.6L836.4 792.3L836 800M861 800L862.7 805.8L864.4 811.6L866.3 817.4L868.2 823.1L870.6 828.8L873.5 834.5L876.3 840.2L878.1 845.7L878.1 851.4L875.4 858.2L871.3 863.5L867.1 864.5L861.5 862.1L855.6 858.1L851.6 853.7L849.4 848.9L847.5 843.2L846.1 837L844.9 830.6L844 824.4L843.2 818.4L842.5 812.3L842 806.3L841.8 800.3L842 794.2L842.7 788.2L843.6 782.2L844.8 776.2L845.9 770.3L847.3 764.4L849 758.6L850.9 752.8L853.1 747.1L855.4 741.5L857.8 736L860.5 730.6L863.4 725.3L866.6 720.1L870 715M891 703.8L907.8 720.5M922.3 760L926.1 766.6L929.7 773.3L933.1 780.1L936.4 786.9L939.4 793.9L942.2 800.8L944.9 807.9L947.3 815.1L949.6 822.4L951.7 829.6L953.6 837L955.5 844.3L957.2 851.7L958.7 859.2L960.1 866.7L961.5 874.6L962.5 882L961.7 888.5L956.5 894.2L950.2 899.7L944.1 905.5L938.4 911.2L937.5 916.6L943 921.9L950.6 926.4L957.2 929.8L964.3 932.5L971.5 935L978.7 937.6L985.8 940.4L993 942.9L1000.2 945L1007.7 946.2L1015.4 947.2L1022.8 948.4L1029.7 950.8L1036.2 954.8L1042.4 959.5L1048.3 964.2L1053.9 969.5L1059.6 974.4L1065.9 978.8L1072.6 983L1079.5 985.4L1086.7 986.2L1094.1 986.8L1101.6 987.2L1109.2 987.5L1117 987.8L1124.7 988.1L1132.4 988.4L1140 988.9L1147.5 989.6L1155.1 990.5L1162.6 991.5L1170.1 992.6L1177.6 993.8L1185.1 995L1192.5 996.2L1200 997.4L1207.5 998.7L1215 1000.3L1222.4 1001.9L1229.9 1003.2L1237.4 1003.8L1244.9 1003.6L1252.4 1003L1260 1002.1L1267.5 1001L1275.1 1000.1L1282.6 999.3L1290.2 998.9L1297.8 998.6L1305.3 998.3L1312.9 998.1L1320.5 997.9L1328.1 997.7L1335.6 997.7L1343.2 998.2L1350.8 999.4L1358.3 1000.8L1365.8 1002L1373.2 1002.5L1380.7 1001.4L1388 999L1395.1 995.9L1401.4 992.1L1407.2 986.8L1413.2 982.2L1419.9 979.3L1427 976.8L1434.5 974.7L1441.9 972.9L1449.4 971.3L1457.2 969.7L1464.7 968.6L1471.3 969.1L1477.2 973.6L1482.6 980.6M1519 1002.5L1531 1011M1026 600L1029.1 605.9L1031.9 611.9L1034.5 618L1036.7 624.2L1038.5 630.4L1040 636.8L1041.5 643.2L1042.7 649.8L1043.5 656.3L1043.8 662.8L1043.3 669.3L1042.1 675.8L1040.7 682.3L1039.3 688.8L1038.4 695.3L1037.5 701.8L1036.7 708.4L1036 715L1035.6 721.5L1035.6 728L1036.5 734.5L1038 741.1L1039.9 747.5L1042 753.7L1044.7 759.5L1048.9 764.8L1053 770.2L1055.4 776L1056.8 782.3L1057.9 788.8L1058.8 795.5L1059.7 802.3L1060.5 810.7L1061 815.9L1060.8 813.5L1060.1 806.1L1059 796.5L1057.9 787.6L1056.8 782.4L1055.9 783.5L1054.8 790.1L1053.6 799.4L1052.7 808.6L1052.1 814.9L1052 815.3L1052 809.6L1052 800M1059.4 800L1066.3 793.1L1073.2 790.1L1080.3 791.8L1087.2 797.5L1092.8 803.3L1097.5 809.9L1101.7 817.1L1106 824.3L1110.7 831.1L1116 837.5L1121.4 843.7L1126.5 850.1L1130.7 857L1134.6 864.2L1138.1 871.8L1141.2 879.4L1144 887.1L1146 895.3L1147.9 903.6L1150.4 911L1154.3 917.5L1159.9 923.5L1166.6 929L1173.7 934L1180.5 938.4L1187.8 942L1195.4 945.4L1202.9 948.8L1210 953L1216.7 958.9L1223.4 964.3L1230.4 967L1238.1 966.9L1246.1 966.4L1254.5 965.9L1262.9 965.3L1271.3 964.8L1279.6 964.6L1287.8 964.4L1296.1 964.3L1304.3 964.1L1312.5 963.9L1320.6 963.7L1328.6 962.8L1336.4 960L1344.2 957L1352.2 955.5L1360.4 954.7L1368.7 954.1L1376.9 953.5L1384.9 952.5L1393 950.7L1400.9 947.9L1408.3 944.6L1414.9 940.3L1421 934.8L1426.8 928.7L1432.8 922.9L1439.1 917.6L1445.6 912.5L1452.2 907.6L1458.7 902.5L1465.1 897.4L1471.2 892L1477.1 886.3L1482.8 880.5L1488.5 874.5L1494 868.4L1499.5 862.3L1504.9 856.1L1510.3 849.9L1515.6 843.6L1520.8 837.3L1525.9 830.9L1531 824.4M1260 615.6L1253.5 615.8L1247.2 616.2L1241 616.8L1234.9 617.5L1229 618.8L1223.3 621L1217.6 623.9L1212 627.3L1206.6 630.7L1201.1 633.9L1195.8 637.1L1190.4 640.5L1185.2 644.1L1180.2 647.9L1175.1 651.8L1169.3 656L1166.3 660.7L1167.2 666.3L1169.3 672.5L1171.4 678.8L1173.3 684.8L1175.3 690.7L1177.1 696.7L1178.5 702.8L1179.7 709L1180.7 715.2L1181.7 721.4L1182.7 727.6L1183.8 733.8L1185 739.9L1186.3 746.1L1187.6 752.2L1189 758.3L1190.4 764.4L1191.9 770.6L1193.3 776.7L1194.8 782.8L1196.3 788.9L1198 795L1199.9 800.9L1202.3 806.6L1205.2 812.2L1208.3 817.7L1211.2 823.3L1214.1 828.9L1217.1 834.4L1220 840L1222.7 845.7L1225 851.4L1227.1 857.4L1228.9 863.4M1246 900L1252.8 904.8L1259.7 909.2L1266.8 913.1L1274.2 916.4L1281.8 919.8L1289.7 922.9L1297.6 925.4L1305.5 926.8L1313.4 926.8L1321.3 925.4L1329.3 923.1L1337.2 920.5L1345.1 917.9L1353.1 915.8L1361.2 914L1369.2 912.1L1377.1 910.1L1384.7 907.5L1391.9 904.1L1398.8 899.7L1405.5 894.7L1412 889.6L1418.4 884.5L1424.9 879.3L1431.1 873.8L1436.9 868.1L1442.1 862L1446.9 855.5L1451.4 848.6L1455.6 841.4L1459.4 834.2L1462.9 826.8L1466.1 819.3L1469 811.6L1471.6 803.8L1474 796L1476.5 788.1L1478.5 780.1L1479 772.1L1478 764L1476.4 755.9L1474.5 748L1471.9 740.2L1468.7 732.6L1465.1 725.2L1461.3 718L1457 711L1452.3 704.3L1447.1 697.8L1441.8 691.8L1436 686.1L1429.7 680.7L1423.3 675.6L1416.8 670.6L1410.3 665.7L1403.6 660.9L1396.7 656.4L1389.8 652.1L1382.6 648.3L1375.2 644.8L1367.8 641.2L1360.7 637.2L1353.7 632.8L1346.8 628.5L1339.6 624.8L1332.1 621.5L1324.4 618.1L1316.6 615.1L1308.6 612.9L1300.7 612L1292.7 612L1284.6 612.2L1276.5 612.8L1268.3 613.8L1260 615.6M1256.7 724.6L1255 732L1253.8 739.4L1253.1 746.7L1252.7 753.9L1252.5 761.1L1252.5 768.2L1253 775.4L1254.8 782.7L1257.6 789.8L1260.9 796.4L1264.5 802.1L1270 806.8L1276.2 811.3L1281.6 816.2L1286.3 821.7L1290.8 827.4L1295.3 833.3L1299.7 839.1L1304 845.1L1308.1 851.2L1312.6 856.9L1317.8 862.1L1323.7 867.4L1330 871.3L1336.6 871.9L1343.7 871.3L1351.1 870.1L1358.5 868.7L1365.6 867.1L1372.7 865L1379.7 862.3L1386.4 859.3L1392.5 855.9L1398.3 852L1403.8 847.2L1409 841.9L1414 836.2L1418.7 830.4L1423.2 824.8L1427.4 818.9L1431.4 812.8L1435.2 806.5L1438.7 800M1320.7 686.6L1314.6 686.8L1308.7 687.3L1303 688L1297.5 689L1292.1 690.2L1286.8 691.5L1281.6 693.2L1276.5 696.2L1271.8 699.7L1268.1 703.6L1264.5 708.1L1261.3 713.1L1258.7 718.4L1257 723.8L1256 729.1L1255 734.6L1254.3 740.3L1253.8 746.1L1253.6 752M1438.7 800L1433 797.1L1428.2 793.6L1425.2 789.6L1424 784.8L1423.2 779.1L1422.6 773.2L1421.6 767.6L1419.8 762.6L1416.9 757.8L1413.5 753.2L1409.8 748.7L1406.3 744.2L1403.1 739.5L1399.9 734.8L1396.6 730.2L1393.1 725.8L1389.5 721.7L1385.5 717.9L1381.2 714.4L1376.7 711L1372 707.8L1367.2 704.8L1362.4 701.9L1357.6 699L1352.7 696.1L1347.7 693.4L1342.5 691.2L1337.3 689.5L1331.9 688.3L1326.4 687.2L1320.7 686.6M1307.6 772.4L1310.1 768.2L1312.8 764.5L1315.9 761.9L1319.1 761L1322.8 761L1326.9 761L1331.3 761L1335.6 761L1339.6 761L1344 761.6L1348.8 763L1353.6 764.9L1357.6 767.2L1360.5 769.7L1361.7 772.3L1361 775.6L1359 780.2L1356.3 784.4L1353.3 786.8L1350.1 786.9L1346.1 786.7L1341.7 786.3L1337.3 785.7L1333.3 785.1L1329.4 783.9L1325.6 782.3L1321.9 780.5L1318.2 778.6L1314.6 776.7L1311 774.6L1307.6 772.4M1020 580L1027.5 574.4L1035.2 569.1L1043.1 564.1L1051.1 559.4L1059.3 555L1067.6 550.8L1076.1 546.8L1084.6 542.9L1093.1 539.1L1101.7 535.5L1110.3 531.9L1118.9 528.4L1127.6 524.7L1136.3 520.8L1145 517.3L1153.9 515.1L1163 514.1L1172.2 513.2L1181.6 512.6L1191 512.1L1200.4 512L1209.7 512.1L1219 512.2L1228.3 512.4L1237.7 512.6L1247 512.9L1256.3 513.3L1265.6 513.9L1274.9 514.7L1284.2 515.4L1293.5 515.9L1302.8 516L1312.2 515.7L1321.5 515.2L1330.8 514.6L1340.1 514L1349.4 513.3L1358.8 512.5L1368.1 512L1377.2 512.7L1386.2 515.2L1395.2 518.4L1404.1 521.3L1413 524.2L1421.9 527.3L1430.6 530.7L1439 534.5L1447.3 538.8L1455.4 543.7L1463.2 549.2L1470.1 555.1L1476.3 561.7L1482 569.1L1487.4 577L1492.3 585.2L1496.7 593.2L1500.9 601.5L1504.7 610L1508.3 618.7L1511.8 627.4L1515.1 636.2L1518.3 644.9L1521.5 653.7L1524.4 662.6L1526.6 671.6L1528.5 680.8L1530 690M878 966L882.5 965.2L887 964.6L891.5 964.2L896 964L900.4 964L905.8 964.3L911.7 965L916.7 965.9L919.7 966.7L919.5 967.4L916.9 968.2L912.6 969L907.2 969.7L901.3 970.3L895.5 970.8L890.5 971L886.2 970.3L882.1 968.4L878 966" fill="none" stroke="#142008" stroke-width="1.2" stroke-opacity="0.9" stroke-linejoin="round"/>
<mask id="tm" maskUnits="userSpaceOnUse" x="0" y="0" width="1926" height="1394"><rect width="1926" height="1394" fill="#fff"/><rect x="-29" y="-14" width="58" height="28" fill="#000" transform="translate(580 218) rotate(2)"/><rect x="-29" y="-14" width="58" height="28" fill="#000" transform="translate(582 283) rotate(3)"/><rect x="-29" y="-14" width="58" height="28" fill="#000" transform="translate(628 358) rotate(8)"/><rect x="-29" y="-14" width="58" height="28" fill="#000" transform="translate(595 443) rotate(5)"/><rect x="-29" y="-14" width="58" height="28" fill="#000" transform="translate(597 557) rotate(3)"/><rect x="-29" y="-14" width="58" height="28" fill="#000" transform="translate(668 870) rotate(-20)"/><rect x="-29" y="-14" width="58" height="28" fill="#000" transform="translate(626 1085) rotate(0)"/><rect x="-29" y="-14" width="58" height="28" fill="#000" transform="translate(1475 291) rotate(5)"/><rect x="-29" y="-14" width="58" height="28" fill="#000" transform="translate(1466 374) rotate(6)"/><rect x="-29" y="-14" width="58" height="28" fill="#000" transform="translate(1448 459) rotate(10)"/><rect x="-29" y="-14" width="58" height="28" fill="#000" transform="translate(1472 551) rotate(3)"/><rect x="-29" y="-14" width="58" height="28" fill="#000" transform="translate(1460 648) rotate(5)"/><rect x="-29" y="-14" width="58" height="28" fill="#000" transform="translate(1440 757) rotate(3)"/><rect x="-29" y="-14" width="58" height="28" fill="#000" transform="translate(1472 926) rotate(-15)"/></mask>
<path d="M143 212L172.6 213.3L202.1 214.6L231.7 215.5L261.3 216L290.9 216.2L320.5 216.3L350.1 216.4L379.7 216.4L409.3 216.5L438.9 216.5L468.5 216.6L498.1 216.6L527.7 216.7L557.3 216.8L586.8 216.9L616.3 217.1L645.8 218.4L675.2 221.1L704.6 224.7L733.9 228.8L763.3 233.1L792.7 237.1L822.1 240.5L851.6 242.9L881.1 245L910.7 246.9L940.2 248.7L969.7 250.4L999.3 251.9L1028.9 253.2L1058.4 254.7L1087.9 256.5L1117.4 258.9L1146.8 261.8L1176.2 265L1205.7 268.3L1235.1 271.7L1264.5 275L1293.9 278.1L1323.4 280.7L1352.9 283.1L1382.4 285.4L1411.9 287.5L1441.4 289.6L1470.9 291.5L1500.5 293.3L1530 295M143 243.5L172.6 244.3L202.2 245.1L231.8 245.9L261.3 246.7L290.9 247.4L320.5 248.1L350.1 248.7L379.7 249.3L409.4 250L439 250.6L468.6 251.3L498.1 252.1L527.7 252.9L557.3 253.9L586.8 255L616.3 256.3L645.8 258.3L675.2 261.2L704.7 264.6L734.1 268.2L763.5 271.9L792.9 275.4L822.3 278.4L851.8 280.7L881.4 282.6L910.9 284.4L940.5 286.1L970 287.9L999.5 289.7L1029.1 291.5L1058.6 293.4L1088.1 295.7L1117.6 298.4L1147 301.6L1176.4 305L1205.8 308.7L1235.2 312.3L1264.6 315.8L1294 319.1L1323.4 321.9L1352.9 324.5L1382.4 327L1411.9 329.4L1441.4 331.6L1470.9 333.7L1500.5 335.7L1530 337.5M143 274L172.6 274.1L202.3 274.3L231.9 274.5L261.5 274.7L291.1 275L320.8 275.4L350.5 275.8L380.1 276.3L409.8 276.8L439.5 277.5L469.1 278.2L498.7 279L528.3 279.9L557.9 280.9L587.4 282.1L616.9 283.3L646.3 285.9L675.6 289.9L704.9 294.8L734.1 300.2L763.4 305.6L792.7 310.5L822 314.5L851.5 317.3L881 319.5L910.6 321.3L940.2 323.3L969.7 325.6L999.2 328.4L1028.7 331.5L1058.1 334.7L1087.6 337.8L1117.1 340.7L1146.6 343.7L1176 346.6L1205.5 349.5L1235 352.4L1264.5 355.3L1294 358.1L1323.5 361L1353 363.7L1382.5 366.5L1412 369.3L1441.5 372L1471 374.7L1500.5 377.3L1530 380M143 306L172.6 306.3L202.3 306.6L231.9 307.1L261.6 307.6L291.2 308.3L320.8 309L350.5 309.8L380.2 310.8L409.8 311.8L439.5 313L469.1 314.3L498.7 315.7L528.3 317.2L557.9 318.8L587.4 320.6L616.9 322.5L646.4 325.2L675.8 328.8L705.1 333L734.5 337.5L763.8 342L793.2 346.3L822.6 350L852.1 353.1L881.6 355.6L911.2 357.9L940.7 360.3L970.2 363.3L999.6 367L1029 371.2L1058.4 375.3L1087.8 378.9L1117.2 382.2L1146.7 385.3L1176.2 388.2L1205.7 391.1L1235.2 394L1264.7 396.8L1294.2 399.8L1323.7 402.8L1353.2 405.9L1382.7 409L1412.1 412.1L1441.6 415.3L1471.1 418.5L1500.5 421.8L1530 425M143 338.5L172.7 338.9L202.3 339.3L232 339.9L261.7 340.6L291.3 341.3L321 342.1L350.7 343L380.4 344L410.1 345.1L439.8 346.3L469.5 347.7L499.1 349.2L528.8 350.8L558.3 352.5L587.9 354.5L617.3 356.6L646.7 359.8L676 364.1L705.3 369.2L734.5 374.6L763.8 380.2L793.1 385.4L822.4 390L851.8 393.7L881.3 396.8L910.9 399.6L940.4 402.5L969.9 405.8L999.3 409.5L1028.8 413.4L1058.2 417.3L1087.6 420.9L1117.1 424.3L1146.6 427.6L1176.1 430.8L1205.6 434L1235.1 437.1L1264.6 440.2L1294.1 443.4L1323.6 446.7L1353.1 449.9L1382.6 453.3L1412.1 456.6L1441.6 459.9L1471 463.3L1500.5 466.6L1530 470M143 372.5L172.6 373.9L202.3 375.4L231.9 376.9L261.5 378.5L291.2 380.2L320.8 382L350.4 383.7L380.1 385.5L409.7 387.4L439.3 389.4L468.9 391.4L498.5 393.6L528.1 395.8L557.7 398.3L587.2 400.9L616.7 403.7L646.1 407L675.5 410.8L704.9 415.1L734.3 419.5L763.6 424.1L793 428.5L822.4 432.7L851.8 436.5L881.2 440.2L910.7 443.7L940.2 447.3L969.6 450.8L999.1 454.4L1028.5 457.9L1058 461.4L1087.5 464.9L1117 468.2L1146.5 471.5L1175.9 474.7L1205.4 477.9L1235 481.1L1264.5 484.2L1294 487.4L1323.5 490.5L1353 493.7L1382.5 496.9L1412 500L1441.5 503.2L1471 506.3L1500.5 509.4L1530 512.5M143 417.5L172.7 417.9L202.4 418.4L232.1 419.2L261.7 420L291.4 421L321 422.2L350.7 423.7L380.4 425.3L410.1 427.2L439.7 429.2L469.3 431.4L499 433.8L528.5 436.3L558.1 439L587.6 441.8L617 444.7L646.4 448.4L675.8 452.7L705 457.6L734.3 462.9L763.5 468.3L792.8 473.6L822.1 478.7L851.4 483.3L880.7 488.2L910 492.9L939.4 497.1L968.8 500.6L998.4 503.3L1028 505.6L1057.6 507.9L1087.2 510.7L1116.6 514.2L1146.1 518.1L1175.5 522.3L1204.9 526.6L1234.3 530.9L1263.7 534.9L1293.2 538.4L1322.7 541.4L1352.2 543.9L1381.8 546.2L1411.4 548.4L1441 550.4L1470.6 552.2L1500.3 553.8L1530 555M143 470L172.7 470.3L202.4 470.7L232.1 471.4L261.8 472.1L291.4 472.9L321.2 474L350.9 475.4L380.6 476.9L410.3 478.6L440.1 480.6L469.7 482.7L499.4 485.1L528.9 487.6L558.4 490.3L587.9 493.2L617.2 496.3L646.3 501.2L675.4 507.8L704.3 515.5L733.1 523.5L762.1 531.1L791.1 537.7L820.2 542.4L849.6 544.9L879.2 546.5L908.9 547.7L938.6 548.9L968.3 550.3L998 551.9L1027.6 553.5L1057.3 555.4L1086.9 557.5L1116.4 560.1L1146 563L1175.5 566.2L1205 569.6L1234.5 573L1264 576.5L1293.5 579.8L1323.1 582.9L1352.6 585.8L1382.2 588.7L1411.7 591.6L1441.3 594.4L1470.9 597.1L1500.4 599.8L1530 602.5M143 542.5L172.7 542L202.3 541.7L232 541.5L261.6 541.5L291.3 541.7L321 542.1L350.7 542.7L380.4 543.6L410.1 544.6L439.8 545.9L469.5 547.3L499.1 548.9L528.7 550.6L558.3 552.5L587.8 554.4L617.2 556.6L646.4 560.7L675.6 566.8L704.6 574.1L733.7 581.6L762.8 588.5L791.9 594L821.2 597.2L850.6 597.6L880.2 597.4L909.9 597.2L939.7 597.1L969.3 597.1L998.9 598.5L1028.5 601.3L1058 604.6L1087.5 607.8L1117 611L1146.4 614.6L1175.8 618.4L1205.2 622.4L1234.6 626.3L1264.1 630L1293.5 633.5L1323 636.5L1352.5 639.2L1382.1 641.8L1411.6 644.3L1441.2 646.6L1470.8 648.7L1500.4 650.7L1530 652.5M700 212L732 212.2L763.9 212.5L795.9 213.1L827.9 213.8L859.8 214.4L891.8 214.8L923.8 215.2L955.7 215.8L987.7 216.8L1019.6 218.3L1051.6 220.2L1083.5 222.2L1115.3 224.6L1147.2 227.4L1179 230.2L1210.9 232.9L1242.8 235.5L1274.6 238.1L1306.5 240.5L1338.4 242.7L1370.3 244.7L1402.3 246.5L1434.2 248.2L1466.1 249.8L1498.1 251.2L1530 252.5M1340 212L1357.3 212.1L1374.5 212.3L1391.8 212.4L1409.1 212.6L1426.4 212.8L1443.6 213.1L1460.9 213.3L1478.2 213.7L1495.5 214L1512.7 214.5L1530 215M143 766L158.8 765.5L174.5 764.2L190 762.4L205.4 760.2L220.6 757.3L235.6 752.1L250.5 747.5L265.9 745.9L281.6 745.3L297.3 744.8L312.8 743.8L327.9 739.9L342.9 734.9L358.2 732.3L373.8 730.7L389.4 729.6L405.1 729L420.7 729.6L436.3 731.2L451.9 732.5L467.9 733.5L483 734L496.6 726.9L510 717.7L523.5 709.4L537.3 702.1L552.3 697.2L567 695.6L578.8 707L592.8 702.9L607.3 694.5L620.4 685.9L633 676.6L646.4 667.3L660.3 658.7L674.3 656.5L688.4 664.7L703.2 668L719 668L734.7 668L749.3 663.4L763.7 656.2L779.2 657.3L794.1 661.3L806.5 672.6L819.1 681L834.2 679.6L849.9 676.6L864.9 672L879.7 666.7L894.9 663.5L910.6 662.1L926.1 660.6L940.9 655.9L955.3 648.5L970.2 647.1L985.8 647.7L1001.5 648.7L1017.3 649.8L1032.9 651L1048.4 652.6L1064 654.3L1079.5 656L1095.1 657.6L1110.6 659.3L1126.2 661L1141.7 662.8L1157.2 664.7L1172.7 666.7L1188.2 668.9L1203.7 671.2L1219.2 673.5L1234.6 675.8L1250.1 678L1265.6 680.2L1281.1 682.4L1296.6 684.5L1312.1 686.5L1327.6 688.4L1343.1 690.2L1358.7 691.9L1374.2 693.5L1389.8 695.1L1405.3 696.6L1420.9 698.1L1436.5 699.5L1452.1 700.9L1467.6 702.2L1483.2 703.5L1498.8 704.7L1514.4 705.9L1530 707M143 959.8L157.4 959.7L171.8 959.4L186.1 959.1L200.5 958.6L214.8 957.8L229.1 956.4L243.4 954.9L257.7 953.6L272.1 952.7L286.4 951.8L300.7 951L315.1 950.2L329.4 949.3L343.8 948.2L358.1 946.9L372.4 945.6L386.7 944.9L401.6 944.6L416.3 944.4L429.6 943.7L440.7 934.3L452.8 926.9L466.7 922.8L480.9 919.7L495.1 917.3L509.3 915.3L523.6 913.2L537.6 910.3L551.5 906.5L565.4 902.8L579.6 900.3L593.9 898.2L607.9 895.5L621.3 890.8L634.3 884.5L647.7 879.1L661.2 874.4L674.9 869.8L688.5 865.2L702 860.2L715.3 855L728.6 849.5L741.8 843.7L754.9 837.7L767.8 831.4L780.2 824.2L792 816M847 797L863.8 789.8L880.8 783.3L898 777.7L915.6 772.6L933.3 768.8L951.3 766.1L969.4 764L987.5 762.2L1005.6 760.4L1023.7 758.5L1041.8 756.6L1059.9 754.5L1077.9 752.3L1095.9 749.6L1113.9 746.5L1131.8 743.4L1149.8 740.2L1167.7 736.5L1185.7 734.1L1203.7 734.6L1221.8 736.5L1240 738.8L1258.1 740.6L1276.3 742L1294.4 743.4L1312.5 744.9L1330.6 746.8L1348.6 749.3L1366.6 752.2L1384.7 754.8L1402.7 756.4L1420.9 757.6L1439.1 758.6L1457.3 759.5L1475.4 760.2L1493.6 760.9L1511.8 761.5L1530 762M197 1078L213 1077.7L229 1077.3L245 1076.6L260.9 1075.9L276.9 1074.8L292.8 1073.4L308.7 1071.8L324.6 1070.4L340.6 1069.3L356.6 1068.3L372.5 1067.4L388.5 1066.6L404.5 1065.8L420.4 1065.1L436.4 1064.5L452.4 1063.8L468.4 1063.1L484.3 1062.3L500.3 1061.5L516.3 1060.3L532 1058.1L547.7 1054.5L563.4 1051.5L579.2 1049.1L595 1047L610.9 1044.9L626.7 1042.3L642.5 1039.6L658.3 1037L674.1 1034.9L690 1033.5L706.2 1032.8L721.8 1031.5L736.9 1025.7L750.1 1016.8L761.1 1004.9L773.3 994.4L787.7 988.1L803 982.9L818.2 978L833.2 972.2L848.3 967.5L864.1 964.6L880.1 963.5L895.9 965.8L911.7 968.3L927.7 968.4L943.7 968.4L959.7 968.1L975.5 966L991.3 963.3L1007.2 961.1L1023.1 959.2L1038.9 957.3L1054.8 955.2L1070.6 952.7L1086.3 949.8L1102.1 946.9L1117.8 943.7L1133.5 940.2L1149 936.4L1164.3 932.2L1179.3 927.1L1194 920.9L1208.5 914.1L1223 907.1L1237.7 900.4L1252.5 894.5L1267.5 889.1L1282.7 883.9L1297.9 879L1313.2 874.3L1328.5 869.7L1344 865.5L1359.5 861.6L1374.9 857.3L1389.9 852.1L1404.4 844.9L1419 838.6L1434.4 834.5L1450.2 831.2L1466.1 829.2L1482 828.7L1497.9 828.3L1513.9 828.1L1530 828M555 1096L571 1093.1L587 1090.7L603 1088.4L619.2 1088L635.4 1088.3L651.6 1088.7L667.8 1089.1L684 1089.5L700.2 1090L716.3 1090.4L732.5 1090.9L748.7 1091.3L764.9 1091.7L781.1 1092L797.3 1092.4L813.5 1092.8L829.7 1093L846 1092.9L862.6 1092.3L878.4 1091.2L892.3 1083.3L907.6 1078.4L923.6 1075.5L939.7 1073.8L955.9 1072.4L972 1070.8L988.1 1069.2L1004.3 1067.6L1020.4 1066L1036.5 1064.2L1052.6 1062.5L1068.7 1060.6L1084.7 1058.3L1100.7 1055.7L1116.6 1052.8L1132.5 1049.6L1148.4 1046.1L1164.2 1042.4L1179.8 1038.4L1195.3 1033.9L1210.7 1028.7L1226 1023.2L1241.3 1017.9L1256.7 1013L1272.5 1008.6L1288.1 1004.1L1303 998.5L1317 990.6L1330.6 981.4L1344.4 972.8L1359 965.9L1373.9 959.5L1389.1 953.8L1404.4 948.6L1419.9 944L1435.6 939.6L1451.2 935.1L1466.6 929.5L1482.2 924L1497.8 920.3L1513.7 919.6L1530 919.6" fill="none" stroke="#fff" stroke-width="2.7" stroke-dasharray="4.4 6.4" mask="url(#tm)"/>
<g font-size="28" font-weight="normal" text-anchor="middle" stroke-width="1.2" fill="#fff" stroke="#fff">
<text transform="translate(580 218) rotate(2)" y="10">520</text>
<text transform="translate(582 283) rotate(3)" y="10">480</text>
<text transform="translate(628 358) rotate(8)" y="10" font-style="italic">440</text>
<text transform="translate(595 443) rotate(5)" y="10" font-style="italic">400</text>
<text transform="translate(597 557) rotate(3)" y="10">360</text>
<text transform="translate(668 870) rotate(-20)" y="10" font-style="italic">320</text>
<text transform="translate(626 1085) rotate(0)" y="10">280</text>
<text transform="translate(1475 291) rotate(5)" y="10" font-style="italic">520</text>
<text transform="translate(1466 374) rotate(6)" y="10" font-style="italic">480</text>
<text transform="translate(1448 459) rotate(10)" y="10" font-style="italic">440</text>
<text transform="translate(1472 551) rotate(3)" y="10">400</text>
<text transform="translate(1460 648) rotate(5)" y="10" font-style="italic">360</text>
<text transform="translate(1440 757) rotate(3)" y="10">320</text>
<text transform="translate(1472 926) rotate(-15)" y="10" font-style="italic">280</text>
</g>
<path d="M142 514.5L375.5 514.5L385 522L390.5 540.7L396 553.7L405.4 558.6L510 559L520.6 550.6L538 530L547 526L557.7 540L571.8 547L586 520.6L594.7 513.5L607 515.3L621 533L633.6 541.8L647.7 526L656.5 538L661.8 559.4L667 586L670.6 603.6L744.8 603.6L766 593L780 607L790.7 626.5L796 647.7L799.5 665L800.8 687.6L802.6 730.7L806.7 773.8L812.5 812L816 823.3L826 814.7L834.7 795.3L839 763L843.3 735L860.6 713.5L880 700.6L892 693.5L1005 693.5L1024 680L1040.7 693.2L1246 694L1261 714.6L1274 737.5L1374.8 738.8L1384 759L1397 781.7L1421.4 785.5L1428.9 807.8L1438 835.8L1447.5 848.9L1471.7 845L1490.4 863.8L1505 869.4L1520 863.8L1532 855" fill="none" stroke="#000" stroke-width="8.6" stroke-linejoin="miter"/>
<path d="M142 452.8L150.2 452.8L158.4 452.8L166.7 452.7L174.9 452.6L183.1 452.6L191.3 452.5L199.5 452.3L207.7 451.8L215.9 451L224.1 450.4L232.3 450L240.5 450.1L248.7 450.4L256.9 450.8L265.1 451.2L273.3 451.9L281.5 452.7L289.7 453.7L297.7 455.4L305.7 457.4L313.8 458.6L322 459.1L330.2 459.5L338.4 459.9L346.6 460.4L354.8 461L363 461.8L371.1 463.3L379.1 465.3L387.2 466.6L395.3 467.6L403.5 468.4L411.7 468.7L420.3 467.9L428.7 466.6L436.1 466.1L441.9 471.4L447.7 478.2L453.9 484.7L460.9 486.4L469.3 486.4L477.6 486.5L485.3 489.4L492.6 493.4L499.4 498L506.1 502.8L512.9 507.9L519.5 513.6L526.3 518.3L533.6 520.7L541.6 521.3L550 521.7L558.2 522.4L566.6 523.1L575 524L582.9 525.3L590.2 527.7L597 532.6L603.6 538L610.1 543L616.4 548.2L622.8 553.5L629 558.9L635.4 564.1L642.3 568.5L649.6 572.4L657.2 575.2L665.3 577.1L673.5 578L681.6 577.2L689.8 576.1L698.3 576.1L707.4 576.4L715.9 577L722.9 577.9L727.5 583.1L731.8 591.1L736.8 598.1L742.8 602.9L750.7 605.4L758.2 608.8L764.7 613.8L771.2 619.1L777.3 624.9L783.6 630.2L791 633.2L798.8 635.5L805.3 640.8L810.4 647.3L813.6 654.7L814.9 662.6L815.8 670.8L816.5 679.2L817 687.5L817.5 695.7L817.8 703.9L818.1 712.1L818.4 720.4L818.6 728.6L818.9 736.8L819.3 745L819.8 753.2L820.3 761.6L821.1 769.9L822.2 778L824.7 786.1L830.1 787L833.4 779.2L834.6 771.2L835.5 762.8L836.5 754.4L838.2 746.3L840.5 738.3L843.3 730.7L847 723.6L851.7 716.8L856.8 710.1L861.6 703.4L866.3 696.7L871.1 690L876 683.4L880.9 676.8L885.9 670.2L890.9 663.5L896.2 657.2L902 651.6L908.4 646.3L915.3 641.5L922.7 638.3L930.5 636L938.8 634.5L946.9 634.4L955.1 634.9L963.3 635.9L971.5 637L979.5 638.4L987.5 640.7L995.3 643.2L1003.3 645.3L1011.4 646.7L1019.5 648.1L1027.7 649.1L1035.8 649.8L1044 650L1052.2 650.2L1060.5 650.4L1068.7 650.5L1076.9 650.6L1085.1 650.8L1093.3 651.1L1101.5 651.5L1109.7 652L1118 652.6L1126.2 653.1L1134.4 653.6L1142.6 653.9L1150.8 654L1159 653.9L1167.2 653.7L1175.4 653.4L1183.7 653.1L1191.8 653L1200.1 653.3L1208.4 654.2L1216.6 655.6L1224.3 657.5L1231.8 661.5L1237.7 666.7L1242.2 673.4L1246.4 680.9L1251.1 687.8L1256.6 694.1L1262.8 700L1269.6 703.8L1277.2 705.7L1285.6 707.2L1293.8 708.8L1301.9 710.9L1310 713.4L1317.5 716.4L1324.1 720.5L1329.6 726.8L1335.4 732.8L1342 738.3L1349.1 742.3L1357.2 743.2L1366.1 743.6L1374.2 744.1L1379.9 746.7L1384.4 754.4L1388.6 762.3L1392.6 769.7L1396.6 776.9L1401.8 783.2L1408.4 788.5L1416.1 789.7L1424.7 790.2L1432.7 791L1439.2 795.1L1445.1 801.7L1451.2 807.9L1457.1 814.6L1463.9 817L1472.1 815.9L1480.2 814L1487.9 810.3L1495.5 807.8L1503.2 809.4L1510.9 813.1L1518.3 816.9L1525.3 821.1L1532 826M142 462L149.6 462L157.2 461.9L164.9 461.8L172.5 461.6L180.1 461.4L187.7 461.2L195.3 461L202.9 460.6L210.5 460L218.1 459.2L225.7 458.5L233.3 457.8L240.9 457.5L248.5 457.6L256.1 458L263.7 458.6L271.3 459.3L278.9 460.2L286.4 461.4L293.9 462.9L301.3 464.6L308.4 467L315.5 470L322.5 473.1L329.5 476.2L336.6 479.9L343.6 482.5L350.8 481.2L358 477.5L364.4 478.3L370.1 483.8L375.8 490L382.4 493.3L389.7 495.4L397.3 497L404.9 498.1L412.5 499.1L420.1 499.5L427.4 497.1L434.4 494.1L440.8 496.4L446.7 502.2L452.9 507.2L459.2 512.4L465.9 514.5L473.6 513.9L481.1 513.6L487.6 516L493.8 520.9L500 526.5L506.4 531L513.3 534.4L520.4 537.2L527.8 538.4L535.3 539.1L543 539.5L550.7 540L558.4 540.5L566.1 541L573.6 541.6L580.8 542.9L587.5 546.1L594.1 550.4L600.8 554.6L607.8 557.7L615 560.3L621.8 563.5L627.8 568.1L633.4 573.4L638.3 579.4L643.1 585.2L649.2 589.8L656.2 592.9L663.7 594L671.4 594.7L678.5 593L685.2 588.4L692.2 588.5L699.6 591.5L707 593L714.9 591.4L720.6 592.9L724.6 600.9L730.3 604.7L738.2 606.2L744.7 609.4L750.1 615.1L755.9 620L762.9 623.1L770 626L776.5 629.8L782.8 634.2L788.8 638.9L795.1 643.6L800.5 648.8L804.4 655.2L807.2 662.5L808.3 669.8L809.1 677.4L809.7 685L810.1 692.7L810.5 700.4L810.8 708L811 715.6L811.2 723.2L811.4 730.9L811.7 738.5L812.1 746.1L812.7 753.7L813.5 761.2L814.5 768.8L815.7 776.4L817 784.2L819 791.5L823 798.1L829.6 798.6L833.6 792.6L835.2 785.2L836.3 777.2L837.7 769.6L839 762L840.5 754.6L842.8 747.5L846.1 740.5L850 733.9L854.1 727.5L858.7 721.5L863.6 715.6L868.6 709.8L873.4 703.9L878.4 698.1L883.3 692.3L888.2 686.4L893 680.4L897.4 673.9L901.8 667.3L906.4 661.2L911.6 656.3L917.8 652.1L924.9 648.4L932.3 646.7L939.8 646.7L947.4 646.7L955.2 646.7L962.7 646.8L970.2 648.1L977.7 650.1L985 652.1L992.3 654.3L999.6 656.7L1006.8 659.2L1014.1 661.5L1021.4 664.2L1028.7 666.5L1036.1 667.5L1043.6 666.7L1051.2 665L1058.7 664.4L1066.2 665.3L1073.6 667.1L1081.1 669L1088.6 670.6L1096.1 671.9L1103.6 673.3L1111.2 674.3L1118.8 674.8L1126.4 674.7L1134 674.2L1141.6 673.6L1149.2 672.9L1156.7 671.6L1164.1 669.5L1171.6 668.5L1179.2 668.5L1186.9 668.5L1194.4 668.6L1202 669.6L1209.6 671.5L1216.9 674.1L1223.8 677L1230 681L1235.9 686.2L1241.7 691.2L1247.3 696.4L1252.9 701.5L1258.8 706.3L1265.1 710.6L1271.6 714.8L1277.9 719.1L1283.5 724.1L1288.5 731.2L1293.4 738.3L1298.5 742.4L1304.7 740.7L1311.6 735.3L1318.1 733.1L1323.8 736.6L1329.2 743.1L1334.8 749.3L1340.7 754.7L1346.8 759.6L1353.6 761.4L1361.7 761.9L1369.7 762.3L1376.2 763.5L1381.3 769.4L1385.2 776.3L1387.9 783.8L1390.2 791.5L1392.9 798.6L1397 804.1L1403.6 808.7L1411 810.3L1419.5 810.8L1425.6 811.9L1429 817.8L1431.9 826.3L1435 834.2L1438 843.1L1441.4 849.6L1446.4 850L1453.6 845.8L1459.9 841L1466.1 836.4L1473.1 835.1L1480.9 834.3L1488.6 834L1495.7 835.5L1502.4 839.8L1509.3 843.1L1516.6 844.5L1524.2 845.6L1532 846M142 475L149.7 477L157.5 478.8L165.2 480.3L173 481.7L180.9 483.1L188.8 484.2L196.7 484.6L204.6 484.4L212.6 483.9L220.5 483.1L228.3 481.9L236 479.4L242.2 474.4L247.9 467.8L254.5 466.1L262.5 467.3L270.4 469.4L277.1 473L283.3 478.5L289.1 484L294.5 490L300.4 494.9L307.2 498.7L314.6 501.9L322.1 505L329.4 508.1L336.7 512L344.1 514.4L352 514.5L360 514.5L367.2 517L374.2 521.4L381.6 524.2L389.2 526.7L397 528.7L404.8 529.7L412.7 530.2L420.7 530.6L428.6 531.2L436.2 532.9L443.7 536.2L451.1 539.3L458.8 540.8L466.7 541L474.8 541.2L482.5 541.5L489.7 544L496.7 548.3L503.7 552.7L511 555.8L518.5 558.8L526.2 561.2L533.9 562L541.8 561.7L549.8 561.3L557.8 561L565.7 561.2L573.7 561.7L581.6 562.5L589.4 563.5L597.1 565.2L604.8 567.6L612.3 570.1L620.3 572.8L627.9 576L633.2 580.5L636.4 587.7L639.4 595.5L642.3 603.4L645.5 610.8L650.1 616.2L657.2 620.9L664.9 623L672.5 621.2L680.2 617.9L687.7 616L694.8 619.3L701.7 624.2L709.2 623.2L716.7 619.7L721.8 623.1L726.2 631.1L732.3 636.1L739.4 640L746.8 642.5L754.5 644.4L762.4 646.1L770.3 647.5L778.1 649L786 651.7L792.9 656.3L795.1 662.7L796 671.2L795.9 679.1L795.7 687L795.4 694.9L795 702.9L794.5 710.8L794.1 718.8L793.6 726.7L793.2 734.6L792.6 742.6L791.9 750.4L790.8 758.3L789.2 766L787.3 773.8L785.7 781.6L784 789.4L782.7 797.2L781.7 805.2L781 813.1L781.4 820.7L784.4 828.1L788.5 835.3L792.3 842.6L796.2 850.6L800.8 857.3L806.5 860.5L814.3 862.2L822.7 863L830.9 861.5L838.8 856.9L841.6 851.5L842.4 844.6L843 836.2L843.3 827.4L843.5 819L843.6 811.1L843.7 803.1L843.8 795.2L844.6 787.3L846.2 779.4L848.2 771.9L851.5 764.8L855.7 757.9L860 751.1L864 744.2L868.1 737.4L872.2 730.6L876.1 723.4L879.8 716L884 709.3L889.2 704.3L896.4 700.9L904.3 697.9L911.2 694.1L916.3 688.5L920.7 681.6L924.7 674L928.1 665L932.2 660.1L938.6 660L947.3 660L956.5 660L964.2 660L969.3 662.3L973.1 670.4L977.3 678.2L981.8 684.9L986.6 691.2L992.2 696.7L998.4 701.9L1005.2 705.9L1012.5 708.8L1020.3 711L1028.1 712.2L1036 712.9L1043.9 713.3L1051.9 713.8L1059.8 714.5L1067.7 715.5L1075.6 716.8L1083.4 718.1L1091.3 719.1L1099.2 719.4L1107.1 719.1L1115.1 718.4L1123 717.3L1130.8 716.2L1138.4 714.2L1145.8 711.3L1153.3 708.4L1160.9 706L1168.6 704.2L1176.5 702.5L1184.3 701.8L1192.3 701.7L1200.3 701.6L1208.3 701.5L1216.2 701.5L1223.9 701.9L1231.5 704.2L1238.9 707.6L1246.3 710.5L1253.7 713.6L1260.9 717L1267.8 720.7L1274.4 725.1L1280.7 730L1286.9 735L1293.3 739.8L1299.9 744.1L1306.9 748.1L1313.8 752.1L1320.5 756.2L1326.8 761L1332.5 766.9L1338 773.1L1343.8 778.2L1350.8 781.3L1359.5 783L1367.9 784.7L1373.4 787.4L1376.6 793.6L1378.9 802.3L1381.1 810.4L1382.8 818.6L1384.3 826.8L1386.3 834.2L1389.8 840.2L1396.9 844.7L1403.7 849.4L1406.9 855.9L1409.1 863.8L1411.4 871.7L1414.9 879L1419.3 885.7L1425 891.1L1432.3 895.2L1439.3 893.5L1445.7 888.3L1450.8 882.2L1455.8 875.9L1461.8 870.4L1469.3 864.8L1475.3 862L1478.3 867.7L1480.5 878.3L1484 882.4L1491.7 881.6L1500.5 880.5L1508.3 879.6L1516.2 878.7L1524.1 877.8L1532 876.8" fill="none" stroke="#fff" stroke-width="4.3" stroke-linejoin="round"/>
<path d="M166 496L180 505L212 506L222 488L230 462L236 459L244 474L252 460L265 451L275 441L292 441L305 436L314 452L321 480L336 505L345 522L351 526L356 512L362 482L366 462L372 458L378 470L385 490L390 472L394 468L399 470L408 485L413 470L415 455L417 392L421 378L426 366L429 380L431 410L435 443L439 473L443 492L456 507L462 518L470 510L476 507L486 518L492 530L500 537L512 545L520 538L526 520L533 496L538 500L544 520L547 549L554 566L565 560L575 552L600 556L630 568L639 572L644 558L648 545L654 556L664 572L674 581L690 584L699 581L710 588L716.5 604L722 618L727 626.5L745 634L757 637L769.5 630L780 642L796 656.5L799.5 674L797 700L795 740L797 780L803 815L812 842L822 850M830 845L840 810L846 775L852 750L860 730L872 712L889 692L904 680L916 689L929 691L943 689L956 684L972 679L987 682L1001 691L1014 700L1026 707L1043 706L1057 701L1072 704L1088 698L1099 703L1109 714L1126 713L1140 706L1155 700L1180 695L1231 692L1244 701.5L1265 706L1274 708L1293 709L1306 715.5L1315 729.5L1323 739L1334 752L1347 761L1362 768L1377 769L1384 784L1390 797L1401 808L1410 812L1423 826.5L1427 838L1434 856L1444 864L1455 858L1471 845L1487 849L1500 858L1515 866L1531 856M840 1092L858 1089L872 1092M1083 1075L1098 1068L1110 1071L1120 1069M1218 1101L1232 1098L1280 1099L1300 1101L1320 1099L1345 1100M1437 1097L1450 1093L1531 1094" fill="none" stroke="#000" stroke-width="3.9" stroke-dasharray="15 10" stroke-linejoin="round"/>
<ellipse cx="750.5" cy="1055" rx="4.2" ry="2.6" transform="rotate(20 750.5 1055)"/><circle cx="1166" cy="1016" r="1.3"/>
<g font-size="28" font-weight="normal" text-anchor="middle" stroke-width="1.1" fill="#000" stroke="#000">
<text transform="translate(342 461) rotate(-15)" y="10" font-style="italic">20</text>
<text transform="translate(642 661) rotate(62)" y="10">60</text>
<text transform="translate(503 776) rotate(55)" y="10">40</text>
<text transform="translate(480 933) rotate(40)" y="10">20</text>
<text transform="translate(920 741) rotate(68)" y="10">20</text>
<text transform="translate(1047 398) rotate(10)" y="10" font-style="italic">20</text>
<text transform="translate(1238 883) rotate(72)" y="10">40</text>
<text transform="translate(1500 991) rotate(15)" y="10" font-style="italic">20</text>
</g>
</g>
<path d="M143.5 212.5L1530.5 212.5M143.5 1108.5L1530.5 1108.5M143.5 212.5L143.5 1108.5M1530.5 212.5L1530.5 1108.5M150.27 212.5L150.27 207M150.27 1108.5L150.27 1113.5M181.485 212.5L181.485 207M181.485 1108.5L181.485 1113.5M212.7 212.5L212.7 202.5M212.7 1108.5L212.7 1118.5M243.915 212.5L243.915 207M243.915 1108.5L243.915 1113.5M275.13 212.5L275.13 207M275.13 1108.5L275.13 1113.5M306.345 212.5L306.345 207M306.345 1108.5L306.345 1113.5M337.56 212.5L337.56 207M337.56 1108.5L337.56 1113.5M368.775 212.5L368.775 207M368.775 1108.5L368.775 1113.5M399.99 212.5L399.99 207M399.99 1108.5L399.99 1113.5M431.205 212.5L431.205 207M431.205 1108.5L431.205 1113.5M462.42 212.5L462.42 207M462.42 1108.5L462.42 1113.5M493.635 212.5L493.635 207M493.635 1108.5L493.635 1113.5M524.85 212.5L524.85 202.5M524.85 1108.5L524.85 1118.5M556.065 212.5L556.065 207M556.065 1108.5L556.065 1113.5M587.28 212.5L587.28 207M587.28 1108.5L587.28 1113.5M618.495 212.5L618.495 207M618.495 1108.5L618.495 1113.5M649.71 212.5L649.71 207M649.71 1108.5L649.71 1113.5M680.925 212.5L680.925 207M680.925 1108.5L680.925 1113.5M712.14 212.5L712.14 207M712.14 1108.5L712.14 1113.5M743.355 212.5L743.355 207M743.355 1108.5L743.355 1113.5M774.57 212.5L774.57 207M774.57 1108.5L774.57 1113.5M805.785 212.5L805.785 207M805.785 1108.5L805.785 1113.5M837 212.5L837 202.5M837 1108.5L837 1118.5M868.215 212.5L868.215 207M868.215 1108.5L868.215 1113.5M899.43 212.5L899.43 207M899.43 1108.5L899.43 1113.5M930.645 212.5L930.645 207M930.645 1108.5L930.645 1113.5M961.86 212.5L961.86 207M961.86 1108.5L961.86 1113.5M993.075 212.5L993.075 207M993.075 1108.5L993.075 1113.5M1024.29 212.5L1024.29 207M1024.29 1108.5L1024.29 1113.5M1055.51 212.5L1055.51 207M1055.51 1108.5L1055.51 1113.5M1086.72 212.5L1086.72 207M1086.72 1108.5L1086.72 1113.5M1117.93 212.5L1117.93 207M1117.93 1108.5L1117.93 1113.5M1149.15 212.5L1149.15 202.5M1149.15 1108.5L1149.15 1118.5M1180.37 212.5L1180.37 207M1180.37 1108.5L1180.37 1113.5M1211.58 212.5L1211.58 207M1211.58 1108.5L1211.58 1113.5M1242.8 212.5L1242.8 207M1242.8 1108.5L1242.8 1113.5M1274.01 212.5L1274.01 207M1274.01 1108.5L1274.01 1113.5M1305.22 212.5L1305.22 207M1305.22 1108.5L1305.22 1113.5M1336.44 212.5L1336.44 207M1336.44 1108.5L1336.44 1113.5M1367.65 212.5L1367.65 207M1367.65 1108.5L1367.65 1113.5M1398.87 212.5L1398.87 207M1398.87 1108.5L1398.87 1113.5M1430.09 212.5L1430.09 207M1430.09 1108.5L1430.09 1113.5M1461.3 212.5L1461.3 202.5M1461.3 1108.5L1461.3 1118.5M1492.51 212.5L1492.51 207M1492.51 1108.5L1492.51 1113.5M1523.73 212.5L1523.73 207M1523.73 1108.5L1523.73 1113.5M143.5 212.5L129.5 212.5M143.5 274.613L136.5 274.613M143.5 325.362L136.5 325.362M143.5 368.27L136.5 368.27M143.5 405.439L136.5 405.439M143.5 438.224L136.5 438.224M143.5 467.552L129.5 467.552M143.5 660.491L136.5 660.491M143.5 773.353L129.5 773.353M143.5 853.43L136.5 853.43M143.5 915.543L136.5 915.543M143.5 966.292L136.5 966.292M143.5 1009.2L136.5 1009.2M143.5 1046.37L136.5 1046.37M143.5 1079.15L136.5 1079.15M143.5 1108.48L129.5 1108.48M1530.5 1108.5L1544 1108.5M1530.5 1068.8L1537.5 1068.8M1530.5 1029.1L1537.5 1029.1M1530.5 989.4L1537.5 989.4M1530.5 949.7L1537.5 949.7M1530.5 910L1544 910M1530.5 870.3L1537.5 870.3M1530.5 830.6L1537.5 830.6M1530.5 790.9L1537.5 790.9M1530.5 751.2L1537.5 751.2M1530.5 711.5L1544 711.5M1530.5 671.8L1537.5 671.8M1530.5 632.1L1537.5 632.1M1530.5 592.4L1537.5 592.4M1530.5 552.7L1537.5 552.7M1530.5 513L1544 513M1530.5 473.3L1537.5 473.3M1530.5 433.6L1537.5 433.6M1530.5 393.9L1537.5 393.9M1530.5 354.2L1537.5 354.2M1530.5 314.5L1544 314.5M1530.5 274.8L1537.5 274.8M1530.5 235.1L1537.5 235.1M1642 212.5L1642 1108.5M1642 1108.5L1655 1108.5M1642 1084.36L1648.5 1084.36M1642 1060.22L1648.5 1060.22M1642 1036.08L1648.5 1036.08M1642 1011.94L1648.5 1011.94M1642 987.8L1648.5 987.8M1642 963.66L1648.5 963.66M1642 939.52L1648.5 939.52M1642 915.38L1648.5 915.38M1642 891.24L1648.5 891.24M1642 867.1L1655 867.1M1642 842.96L1648.5 842.96M1642 818.82L1648.5 818.82M1642 794.68L1648.5 794.68M1642 770.54L1648.5 770.54M1642 746.4L1648.5 746.4M1642 722.26L1648.5 722.26M1642 698.12L1648.5 698.12M1642 673.98L1648.5 673.98M1642 649.84L1648.5 649.84M1642 625.7L1655 625.7M1642 601.56L1648.5 601.56M1642 577.42L1648.5 577.42M1642 553.28L1648.5 553.28M1642 529.14L1648.5 529.14M1642 505L1648.5 505M1642 480.86L1648.5 480.86M1642 456.72L1648.5 456.72M1642 432.58L1648.5 432.58M1642 408.44L1648.5 408.44M1642 384.3L1655 384.3M1642 360.16L1648.5 360.16M1642 336.02L1648.5 336.02M1642 311.88L1648.5 311.88M1642 287.74L1648.5 287.74M1642 263.6L1648.5 263.6M1642 239.46L1648.5 239.46M1642 215.32L1648.5 215.32" stroke="#444" stroke-width="1.4" fill="none"/>
<path d="M258.8 212.5L258.8 1108.5M836.3 212.5L836.3 1108.5M1414.8 212.5L1414.8 1108.5" stroke="#000" stroke-width="3" fill="none"/>
<path d="M249.3 1108.5L268.3 1108.5M249.3 1048.1L268.3 1048.1M249.3 987.7L268.3 987.7M249.3 927.3L268.3 927.3M249.3 866.9L268.3 866.9M249.3 806.5L268.3 806.5M249.3 746.1L268.3 746.1M249.3 685.7L268.3 685.7M249.3 625.3L268.3 625.3M249.3 564.9L268.3 564.9M249.3 504.5L268.3 504.5M249.3 444.1L268.3 444.1M249.3 383.7L268.3 383.7M249.3 323.3L268.3 323.3M249.3 262.9L268.3 262.9M826.8 1108.5L845.8 1108.5M826.8 1048.1L845.8 1048.1M826.8 987.7L845.8 987.7M826.8 927.3L845.8 927.3M826.8 866.9L845.8 866.9M826.8 806.5L845.8 806.5M826.8 746.1L845.8 746.1M826.8 685.7L845.8 685.7M826.8 625.3L845.8 625.3M826.8 564.9L845.8 564.9M826.8 504.5L845.8 504.5M826.8 444.1L845.8 444.1M826.8 383.7L845.8 383.7M826.8 323.3L845.8 323.3M826.8 262.9L845.8 262.9M1405.3 1108.5L1424.3 1108.5M1405.3 1048.1L1424.3 1048.1M1405.3 987.7L1424.3 987.7M1405.3 927.3L1424.3 927.3M1405.3 866.9L1424.3 866.9M1405.3 806.5L1424.3 806.5M1405.3 746.1L1424.3 746.1M1405.3 685.7L1424.3 685.7M1405.3 625.3L1424.3 625.3M1405.3 564.9L1424.3 564.9M1405.3 504.5L1424.3 504.5M1405.3 444.1L1424.3 444.1M1405.3 383.7L1424.3 383.7M1405.3 323.3L1424.3 323.3M1405.3 262.9L1424.3 262.9" stroke="#000" stroke-width="2.2" fill="none"/>
<text x="457.6" y="99.8" font-size="50.45" text-anchor="start">CO (ppbv 10<tspan font-size="26" dy="-22.5">x</tspan><tspan dy="22.5">), So-No, 2025-12-02T12, Tue.</tspan></text>
<g font-size="23.7" text-anchor="middle">
<text x="103.2" y="144.8" text-anchor="end">Lat:</text><text x="103.2" y="185.6" text-anchor="end">Lon:</text>
<text x="143" y="144.8">18.8</text><text x="143" y="185.6">262.3</text>
<text x="298.75" y="144.8">23.3</text><text x="298.75" y="185.6">262.3</text>
<text x="454.5" y="144.8">27.8</text><text x="454.5" y="185.6">262.3</text>
<text x="610.25" y="144.8">32.3</text><text x="610.25" y="185.6">262.3</text>
<text x="766" y="144.8">36.8</text><text x="766" y="185.6">262.3</text>
<text x="921.75" y="144.8">41.3</text><text x="921.75" y="185.6">262.3</text>
<text x="1077.5" y="144.8">45.8</text><text x="1077.5" y="185.6">262.3</text>
<text x="1233.25" y="144.8">50.2</text><text x="1233.25" y="185.6">262.3</text>
<text x="1389" y="144.8">54.7</text><text x="1389" y="185.6">262.3</text>
</g>
<text x="126.8" y="226" font-size="33" text-anchor="end">40</text>
<text x="126.8" y="479.052" font-size="33" text-anchor="end">100</text>
<text x="126.8" y="784.853" font-size="33" text-anchor="end">300</text>
<text x="126.8" y="1121.48" font-size="33" text-anchor="end">1000</text>
<text x="212.2" y="1159.5" font-size="32.8" text-anchor="middle">-2000</text>
<text x="524.35" y="1159.5" font-size="32.8" text-anchor="middle">-1000</text>
<text x="836.2" y="1159.5" font-size="32.8" text-anchor="middle">0</text>
<text x="1148.35" y="1159.5" font-size="32.8" text-anchor="middle">1000</text>
<text x="1460.5" y="1159.5" font-size="32.8" text-anchor="middle">2000</text>
<text x="836.8" y="1194.8" font-size="33.6" text-anchor="middle">Distance (km)</text>
<text x="111.5" y="1214.6" font-size="47.2" text-anchor="start">So</text>
<text x="1497.2" y="1215" font-size="48" text-anchor="start">No</text>
<text x="121.5" y="1304.5" font-size="34.3" text-anchor="start">FH156</text>
<text x="10.5" y="1389.5" font-size="23.3" text-anchor="start">Thu Nov 27 07:22:26 2025</text>
<text x="1740" y="1387.4" font-size="16.5" text-anchor="start">Paul A. Newman (NASA GSFC)</text>
<text x="1551.5" y="1108" font-size="25.5" text-anchor="start">0</text>
<text x="1551.5" y="920" font-size="25.5" text-anchor="start">5</text>
<text x="1551.5" y="721.5" font-size="25.5" text-anchor="start">10</text>
<text x="1551.5" y="523" font-size="25.5" text-anchor="start">15</text>
<text x="1551.5" y="324.5" font-size="25.5" text-anchor="start">20</text>
<text x="1662.5" y="1108" font-size="25.5" text-anchor="start">0</text>
<text x="1662.5" y="876.6" font-size="25.5" text-anchor="start">20</text>
<text x="1662.5" y="635.2" font-size="25.5" text-anchor="start">40</text>
<text x="1662.5" y="393.8" font-size="25.5" text-anchor="start">60</text>
<text transform="translate(48 660) rotate(-90)" font-size="33.3" text-anchor="middle">P (hPa)</text>
<text transform="translate(1605.5 660.5) rotate(-90)" font-size="25.8" text-anchor="middle">Z (km)</text>
<text transform="translate(1715.5 660) rotate(-90)" font-size="25.8" text-anchor="middle">Z (kft)</text>
<text transform="translate(1826.5 687.5) rotate(-90)" font-size="34" text-anchor="middle">CO (ppbv 10<tspan font-size="17.5" dy="-15">x</tspan><tspan dy="15">)</tspan></text>
<g shape-rendering="crispEdges">
<rect x="1748" y="966.23" width="25.5" height="16.87" fill="#10004a"/>
<rect x="1748" y="949.86" width="25.5" height="16.87" fill="#40007a"/>
<rect x="1748" y="933.48" width="25.5" height="16.87" fill="#5c00a8"/>
<rect x="1748" y="917.11" width="25.5" height="16.87" fill="#6608c8"/>
<rect x="1748" y="900.74" width="25.5" height="16.87" fill="#5c18e0"/>
<rect x="1748" y="884.37" width="25.5" height="16.87" fill="#4a2cf0"/>
<rect x="1748" y="867.99" width="25.5" height="16.87" fill="#3a44fa"/>
<rect x="1748" y="851.62" width="25.5" height="16.87" fill="#2060ff"/>
<rect x="1748" y="835.25" width="25.5" height="16.87" fill="#0a78ff"/>
<rect x="1748" y="818.88" width="25.5" height="16.87" fill="#0890f0"/>
<rect x="1748" y="802.51" width="25.5" height="16.87" fill="#08a4e0"/>
<rect x="1748" y="786.13" width="25.5" height="16.87" fill="#08b8d0"/>
<rect x="1748" y="769.76" width="25.5" height="16.87" fill="#08ccb8"/>
<rect x="1748" y="753.39" width="25.5" height="16.87" fill="#08dca0"/>
<rect x="1748" y="737.02" width="25.5" height="16.87" fill="#0ce888"/>
<rect x="1748" y="720.64" width="25.5" height="16.87" fill="#10f478"/>
<rect x="1748" y="704.27" width="25.5" height="16.87" fill="#28f860"/>
<rect x="1748" y="687.90" width="25.5" height="16.87" fill="#40fa48"/>
<rect x="1748" y="671.53" width="25.5" height="16.87" fill="#60fa38"/>
<rect x="1748" y="655.16" width="25.5" height="16.87" fill="#84f428"/>
<rect x="1748" y="638.78" width="25.5" height="16.87" fill="#a8ec18"/>
<rect x="1748" y="622.41" width="25.5" height="16.87" fill="#c4e410"/>
<rect x="1748" y="606.04" width="25.5" height="16.87" fill="#dcd808"/>
<rect x="1748" y="589.67" width="25.5" height="16.87" fill="#f0c800"/>
<rect x="1748" y="573.29" width="25.5" height="16.87" fill="#ffb400"/>
<rect x="1748" y="556.92" width="25.5" height="16.87" fill="#ff9c00"/>
<rect x="1748" y="540.55" width="25.5" height="16.87" fill="#ff8200"/>
<rect x="1748" y="524.18" width="25.5" height="16.87" fill="#ff6a00"/>
<rect x="1748" y="507.81" width="25.5" height="16.87" fill="#ff4c00"/>
<rect x="1748" y="491.43" width="25.5" height="16.87" fill="#f03c04"/>
<rect x="1748" y="475.06" width="25.5" height="16.87" fill="#dc2a04"/>
<rect x="1748" y="458.69" width="25.5" height="16.87" fill="#c41008"/>
<rect x="1748" y="442.32" width="25.5" height="16.87" fill="#a50010"/>
<rect x="1748" y="425.94" width="25.5" height="16.87" fill="#8c0010"/>
<rect x="1748" y="409.57" width="25.5" height="16.87" fill="#7a0008"/>
<rect x="1748" y="393.20" width="25.5" height="16.87" fill="#6e0000"/>
</g>
<path d="M1748 387.2L1748 987.6M1773.5 387.2L1773.5 987.6M1748 966.2l5 0M1773.5 966.2l-5 0M1748 949.9l5 0M1773.5 949.9l-5 0M1748 933.5l5 0M1773.5 933.5l-5 0M1748 917.1l5 0M1773.5 917.1l-5 0M1748 900.7l5 0M1773.5 900.7l-5 0M1748 884.4l5 0M1773.5 884.4l-5 0M1748 868.0l5 0M1773.5 868.0l-5 0M1748 851.6l5 0M1773.5 851.6l-5 0M1748 835.2l5 0M1773.5 835.2l-5 0M1748 818.9l5 0M1773.5 818.9l-5 0M1748 802.5l5 0M1773.5 802.5l-5 0M1748 786.1l5 0M1773.5 786.1l-5 0M1748 769.8l5 0M1773.5 769.8l-5 0M1748 753.4l5 0M1773.5 753.4l-5 0M1748 737.0l5 0M1773.5 737.0l-5 0M1748 720.6l5 0M1773.5 720.6l-5 0M1748 704.3l5 0M1773.5 704.3l-5 0M1748 687.9l5 0M1773.5 687.9l-5 0M1748 671.5l5 0M1773.5 671.5l-5 0M1748 655.2l5 0M1773.5 655.2l-5 0M1748 638.8l5 0M1773.5 638.8l-5 0M1748 622.4l5 0M1773.5 622.4l-5 0M1748 606.0l5 0M1773.5 606.0l-5 0M1748 589.7l5 0M1773.5 589.7l-5 0M1748 573.3l5 0M1773.5 573.3l-5 0M1748 556.9l5 0M1773.5 556.9l-5 0M1748 540.5l5 0M1773.5 540.5l-5 0M1748 524.2l5 0M1773.5 524.2l-5 0M1748 507.8l5 0M1773.5 507.8l-5 0M1748 491.4l5 0M1773.5 491.4l-5 0M1748 475.1l5 0M1773.5 475.1l-5 0M1748 458.7l5 0M1773.5 458.7l-5 0M1748 442.3l5 0M1773.5 442.3l-5 0M1748 425.9l5 0M1773.5 425.9l-5 0M1748 409.6l5 0M1773.5 409.6l-5 0" stroke="#333" stroke-width="1.2" fill="none"/>
<text x="1794.5" y="405" font-size="33.3" text-anchor="start">2.60</text>
<text x="1794.5" y="991" font-size="33.3" text-anchor="start">0.80</text>
<rect x="1035.7" y="1191.7" width="419.5" height="183.1" fill="#72fa2e"/>
<path d="M1078 1221.2L1203.5 1221.2" stroke="#000" stroke-width="3.6" stroke-dasharray="16 15.6"/>
<path d="M1078 1254.3L1203.5 1254.3" stroke="#000" stroke-width="9"/>
<path d="M1078 1287.5L1203.5 1287.5" stroke="#fff" stroke-width="4.6"/>
<path d="M1078 1321.2L1203.5 1321.2" stroke="#222" stroke-width="1"/>
<path d="M1078 1354.3L1203.5 1354.3" stroke="#fff" stroke-width="1.6" stroke-dasharray="3 4.3" opacity="0.85"/>
<text x="1226" y="1229.4" font-size="23.3" text-anchor="start">Epv = 3.0 units</text>
<text x="1226" y="1262.5" font-size="23.3" text-anchor="start">GMAO tropopause</text>
<text x="1226" y="1295.7" font-size="23.3" text-anchor="start">O<tspan font-size="13" dy="6">3</tspan><tspan dy="-6"> = 150, 200, 250 ppb</tspan></text>
<text x="1226" y="1329.4" font-size="23.3" text-anchor="start">Wind speed (m/s)</text>
<text x="1226" y="1362.5" font-size="23.3" text-anchor="start">Theta (K)</text>
<defs><clipPath id="mc"><rect x="428.3" y="1192.4" width="228.5" height="168"/></clipPath></defs>
<rect x="428.3" y="1192.4" width="228.5" height="168" fill="#fff"/>
<g clip-path="url(#mc)">
<path d="M398.892 1085A143.108 133 0 0 0 685.108 1085M366.612 1085A175.388 163 0 0 0 717.388 1085M334.332 1085A207.668 193 0 0 0 749.668 1085M302.052 1085A239.948 223 0 0 0 781.948 1085M270.848 1085A271.152 252 0 0 0 813.152 1085M238.568 1085A303.432 282 0 0 0 845.432 1085M456.9 1146.2L252.5 1292.9M501.2 1177.5L403.2 1399.6M556.4 1184.1L591.0 1421.9M607.8 1164.1L765.7 1354.0M641.6 1122.9L880.5 1214.0" fill="none" stroke="#444" stroke-width="1" stroke-dasharray="4.5 6.5"/>
<path d="M479.6 1192.4L475.8 1199.4L478.3 1204.5L482 1207L480.9 1213.4L478.3 1223.6L480.9 1229.9L484.7 1238.8L487.2 1243.9L486 1249L482 1256.6L479.6 1264.2L478.3 1269.3L479.6 1276.9L482 1284.5L486 1289.6L492.3 1294.7L498.7 1297.2L506.3 1300.4L512.6 1301L519 1300.4L522.8 1304.8L526.6 1308.6L530.4 1306L534.2 1310L538 1316.3L541.8 1320L545 1315L550 1307.4L556.5 1306L561.6 1303L565.4 1305.5L569.2 1303L574.3 1303.6L580.6 1304L583 1308.6L585.7 1315L589.5 1319.4L592 1317.5L590.8 1311L587 1304.8L585.7 1299.7L588.3 1294.7L593.3 1290.9L598.4 1285.8L595.9 1279.4L597 1273L601 1269.3L606 1264.2L603.5 1259L597 1256L590.8 1257.8M487.2 1243.9L501.2 1247.7L520.2 1250.2L539.3 1251.5L545 1250.5L554 1254L561.6 1252.8M493.6 1296L496 1302.3L498.7 1310L503.7 1318.8L507.5 1325L505 1326.4L500 1320L495.5 1312.4L492.5 1304M500 1298.5L502.5 1306L508.8 1315L513.9 1322.6L519 1330L519 1335.3L524 1340.4L530.4 1344L539.3 1348.6L547.6 1350.5L556.5 1348L561.6 1351.8L566.7 1357L567.5 1360.4M541.8 1320L541 1328L545 1335.3L551.4 1339L559 1337.8L564 1332.8L571.7 1330.2L574.3 1332.8L571.7 1339L569.2 1344.2L574.3 1348L583 1346.7L587.6 1350.5L588.3 1360.4M519 1192.4L526.6 1194.3L534 1193L540 1193L547.6 1195.6L554 1203.2L548.9 1210.9L546.3 1219.7L551.4 1226L562.9 1228.6L570.5 1232.4L573 1238.8L578 1240L579.4 1235L578 1227.4L575.6 1219.7L573 1212L570.5 1204.5L569.2 1198.2L574.3 1195.6L582 1199.4L588.3 1200.7L590.8 1207L593.3 1212L599.7 1209.6L606 1216L616.2 1218.5L622 1222.3L618.7 1229.9L611 1233.7L604.8 1237.5L602.2 1245L599.7 1251.5L594.6 1256.6L590.8 1257.8L583 1262L577 1263M547.6 1192.4L553 1197L558 1193M560 1194L566 1200L562 1206L557 1202M575 1192.4L580 1196L588 1194L592 1197M580.6 1329L585.7 1324.5L595.9 1325L606 1327.7L616.2 1329L622.5 1331.5L618.7 1334L611 1331.5L601 1331L590.8 1327.7L580.6 1329M618.7 1330.2L623.8 1327.7L631.4 1329L629 1332.8L621.3 1334L615 1335.3M595.9 1312.4L602.2 1313.7L607.3 1320L615 1322.6L618.7 1322.6M614.9 1360.4L618 1357L622.5 1354.3L628.9 1351.2L634 1354.3L641.6 1353L650.5 1353L656.8 1349.5" fill="none" stroke="#000" stroke-width="2.5" stroke-linejoin="round" stroke-linecap="round"/>
<ellipse cx="519" cy="1210.8" rx="6.5" ry="2.6" transform="rotate(-10 519 1210.8)"/>
<ellipse cx="522.8" cy="1220.4" rx="4" ry="2" transform="rotate(-10 522.8 1220.4)"/>
<ellipse cx="533.6" cy="1227.4" rx="2" ry="3" transform="rotate(10 533.6 1227.4)"/>
<ellipse cx="537.4" cy="1240.7" rx="2.3" ry="3.6" transform="rotate(-15 537.4 1240.7)"/>
<ellipse cx="483.8" cy="1240" rx="3.2" ry="6" transform="rotate(-25 483.8 1240)"/>
<ellipse cx="480" cy="1218" rx="2.2" ry="6.5" transform="rotate(5 480 1218)"/>
<ellipse cx="566.6" cy="1254.5" rx="5.5" ry="3.2" transform="rotate(15 566.6 1254.5)"/>
<ellipse cx="567.3" cy="1265.4" rx="2.1" ry="5.2" transform="rotate(5 567.3 1265.4)"/>
<ellipse cx="578.7" cy="1263" rx="5.5" ry="5" transform="rotate(30 578.7 1263)"/>
<ellipse cx="587" cy="1264.8" rx="3.5" ry="1.8" transform="rotate(-20 587 1264.8)"/>
<ellipse cx="576" cy="1256" rx="3" ry="2" transform="rotate(0 576 1256)"/>
<ellipse cx="620.5" cy="1246.5" rx="6.5" ry="3.2" transform="rotate(-42 620.5 1246.5)"/>
<ellipse cx="611" cy="1242" rx="3" ry="2" transform="rotate(-30 611 1242)"/>
<ellipse cx="638.3" cy="1329.6" rx="3.2" ry="1.4" transform="rotate(0 638.3 1329.6)"/>
<ellipse cx="605.4" cy="1337.8" rx="3.2" ry="1.4" transform="rotate(0 605.4 1337.8)"/>
<ellipse cx="598.5" cy="1318.8" rx="1.6" ry="3" transform="rotate(-25 598.5 1318.8)"/>
<ellipse cx="503.5" cy="1322" rx="1.6" ry="4.5" transform="rotate(-35 503.5 1322)"/>
<ellipse cx="575" cy="1200" rx="3" ry="2.2" transform="rotate(0 575 1200)"/>
<ellipse cx="586.5" cy="1196" rx="3.4" ry="1.8" transform="rotate(10 586.5 1196)"/>
<ellipse cx="552" cy="1215" rx="1.8" ry="1.5" transform="rotate(0 552 1215)"/>
</g>
<ellipse cx="542" cy="1281.6" rx="53.4" ry="49.6" fill="none" stroke="#ff4410" stroke-width="1.9"/>
<path d="M542 1222.8L542 1341" stroke="#ff4410" stroke-width="4"/>
<path d="M539.3 1270.6L543.6 1277.4L551.5 1275.6L546.4 1281.8L550.6 1288.7L543.1 1285.8L537.8 1291.9L538.3 1283.8L530.8 1280.7L538.6 1278.7Z" fill="#c4e410"/>
<rect x="428.3" y="1192.4" width="228.5" height="168" fill="none" stroke="#555" stroke-width="1.3"/>
</svg>
</body></html>
